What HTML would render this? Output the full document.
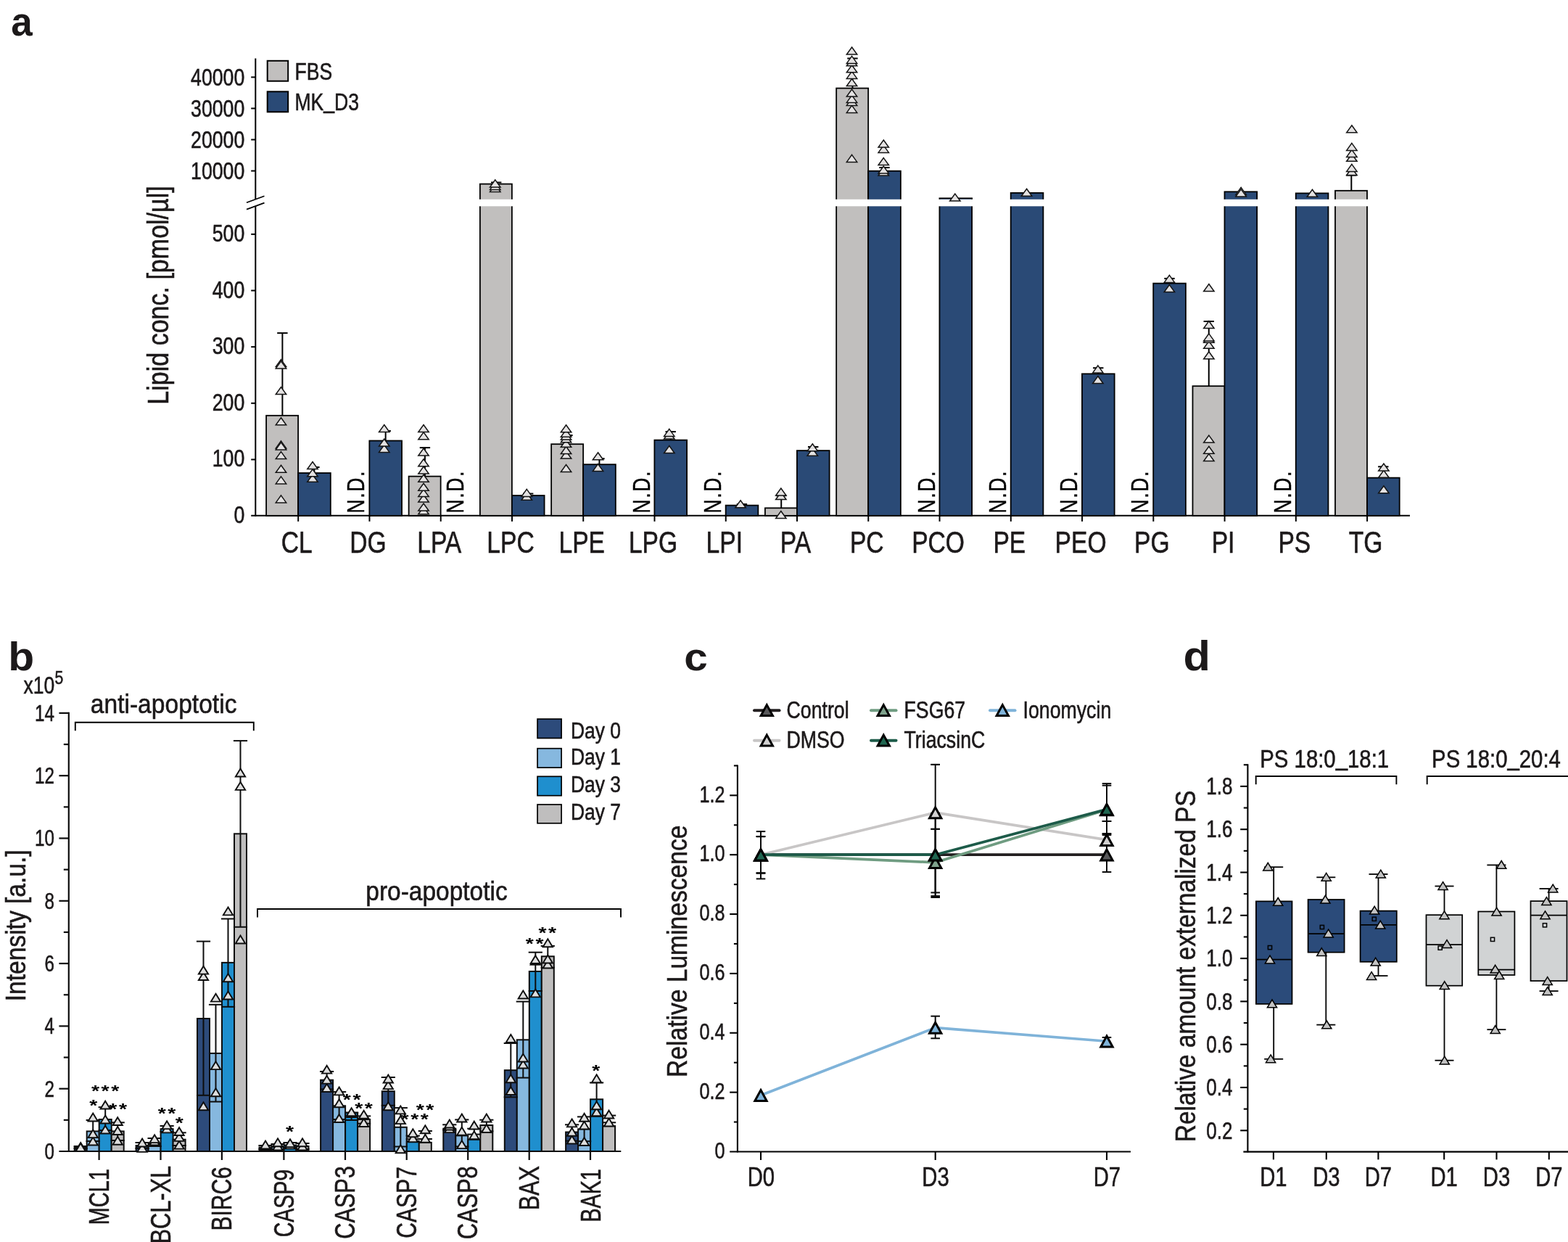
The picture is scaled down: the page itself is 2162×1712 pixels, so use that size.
<!DOCTYPE html>
<html lang="en"><head><meta charset="utf-8"><title>Figure</title>
<style>
html,body{margin:0;padding:0;background:#fff;}
body{width:2162px;height:1712px;overflow:hidden;}
svg{display:block;font-family:'Liberation Sans', sans-serif;}
</style></head><body>
<svg width="2162" height="1712" viewBox="0 0 2162 1712">
<rect width="2162" height="1712" fill="#fff"/>
<text transform="translate(15.31 48.55) scale(0.9592229394240318 1)" font-size="55.27" text-anchor="start" fill="#1c191a" font-weight="bold">a</text>
<line x1="352.3" y1="80.5" x2="352.3" y2="274.5" stroke="#000" stroke-width="2" stroke-linecap="butt"/>
<line x1="352.3" y1="284" x2="352.3" y2="711.7" stroke="#000" stroke-width="2" stroke-linecap="butt"/>
<line x1="346.2" y1="710.8" x2="1944" y2="710.8" stroke="#000" stroke-width="2" stroke-linecap="butt"/>
<line x1="340" y1="279.3" x2="364.5" y2="270.3" stroke="#000" stroke-width="1.7" stroke-linecap="butt"/>
<line x1="340" y1="288.6" x2="364.5" y2="279.6" stroke="#000" stroke-width="1.7" stroke-linecap="butt"/>
<text transform="translate(337.3 721.1) scale(0.8 1)" font-size="33.4" text-anchor="end" fill="#1c191a" stroke="#1c191a" stroke-width="0.6">0</text>
<line x1="346.2" y1="633.45" x2="352.3" y2="633.45" stroke="#000" stroke-width="2" stroke-linecap="butt"/>
<text transform="translate(337.3 643.45) scale(0.8 1)" font-size="33.4" text-anchor="end" fill="#1c191a" stroke="#1c191a" stroke-width="0.6">100</text>
<line x1="346.2" y1="555.8" x2="352.3" y2="555.8" stroke="#000" stroke-width="2" stroke-linecap="butt"/>
<text transform="translate(337.3 565.8) scale(0.8 1)" font-size="33.4" text-anchor="end" fill="#1c191a" stroke="#1c191a" stroke-width="0.6">200</text>
<line x1="346.2" y1="478.15" x2="352.3" y2="478.15" stroke="#000" stroke-width="2" stroke-linecap="butt"/>
<text transform="translate(337.3 488.15) scale(0.8 1)" font-size="33.4" text-anchor="end" fill="#1c191a" stroke="#1c191a" stroke-width="0.6">300</text>
<line x1="346.2" y1="400.5" x2="352.3" y2="400.5" stroke="#000" stroke-width="2" stroke-linecap="butt"/>
<text transform="translate(337.3 410.5) scale(0.8 1)" font-size="33.4" text-anchor="end" fill="#1c191a" stroke="#1c191a" stroke-width="0.6">400</text>
<line x1="346.2" y1="322.85" x2="352.3" y2="322.85" stroke="#000" stroke-width="2" stroke-linecap="butt"/>
<text transform="translate(337.3 332.85) scale(0.8 1)" font-size="33.4" text-anchor="end" fill="#1c191a" stroke="#1c191a" stroke-width="0.6">500</text>
<line x1="346.2" y1="235.55" x2="352.3" y2="235.55" stroke="#000" stroke-width="2" stroke-linecap="butt"/>
<text transform="translate(337.3 246.75) scale(0.8 1)" font-size="33.4" text-anchor="end" fill="#1c191a" stroke="#1c191a" stroke-width="0.6">10000</text>
<line x1="346.2" y1="192.5" x2="352.3" y2="192.5" stroke="#000" stroke-width="2" stroke-linecap="butt"/>
<text transform="translate(337.3 203.7) scale(0.8 1)" font-size="33.4" text-anchor="end" fill="#1c191a" stroke="#1c191a" stroke-width="0.6">20000</text>
<line x1="346.2" y1="149.45" x2="352.3" y2="149.45" stroke="#000" stroke-width="2" stroke-linecap="butt"/>
<text transform="translate(337.3 160.65) scale(0.8 1)" font-size="33.4" text-anchor="end" fill="#1c191a" stroke="#1c191a" stroke-width="0.6">30000</text>
<line x1="346.2" y1="106.4" x2="352.3" y2="106.4" stroke="#000" stroke-width="2" stroke-linecap="butt"/>
<text transform="translate(337.3 117.6) scale(0.8 1)" font-size="33.4" text-anchor="end" fill="#1c191a" stroke="#1c191a" stroke-width="0.6">40000</text>
<text transform="translate(232 407) rotate(-90) scale(0.855 1)" font-size="39.8" text-anchor="middle" fill="#1c191a" stroke="#1c191a" stroke-width="0.6">Lipid conc. [pmol/µl]</text>
<rect x="368.7" y="83.8" width="28.5" height="27.95" fill="#c1bfbe" stroke="#000" stroke-width="2"/>
<rect x="368.7" y="126.3" width="28.5" height="28" fill="#2a4a76" stroke="#000" stroke-width="2"/>
<text transform="translate(406.5 109.5) scale(0.805 1)" font-size="33" text-anchor="start" fill="#1c191a" stroke="#1c191a" stroke-width="0.6">FBS</text>
<text transform="translate(406.5 151.7) scale(0.805 1)" font-size="33" text-anchor="start" fill="#1c191a" stroke="#1c191a" stroke-width="0.6">MK<tspan dy="-2.97">_</tspan><tspan dy="2.97">D3</tspan></text>
<line x1="411.2" y1="710.8" x2="411.2" y2="718.8" stroke="#000" stroke-width="2" stroke-linecap="butt"/>
<text transform="translate(409.2 761.5) scale(0.8 1)" font-size="42" text-anchor="middle" fill="#1c191a" stroke="#1c191a" stroke-width="0.6">CL</text>
<line x1="509.46" y1="710.8" x2="509.46" y2="718.8" stroke="#000" stroke-width="2" stroke-linecap="butt"/>
<text transform="translate(507.46 761.5) scale(0.8 1)" font-size="42" text-anchor="middle" fill="#1c191a" stroke="#1c191a" stroke-width="0.6">DG</text>
<line x1="607.72" y1="710.8" x2="607.72" y2="718.8" stroke="#000" stroke-width="2" stroke-linecap="butt"/>
<text transform="translate(605.72 761.5) scale(0.8 1)" font-size="42" text-anchor="middle" fill="#1c191a" stroke="#1c191a" stroke-width="0.6">LPA</text>
<line x1="705.98" y1="710.8" x2="705.98" y2="718.8" stroke="#000" stroke-width="2" stroke-linecap="butt"/>
<text transform="translate(703.98 761.5) scale(0.8 1)" font-size="42" text-anchor="middle" fill="#1c191a" stroke="#1c191a" stroke-width="0.6">LPC</text>
<line x1="804.24" y1="710.8" x2="804.24" y2="718.8" stroke="#000" stroke-width="2" stroke-linecap="butt"/>
<text transform="translate(802.24 761.5) scale(0.8 1)" font-size="42" text-anchor="middle" fill="#1c191a" stroke="#1c191a" stroke-width="0.6">LPE</text>
<line x1="902.5" y1="710.8" x2="902.5" y2="718.8" stroke="#000" stroke-width="2" stroke-linecap="butt"/>
<text transform="translate(900.5 761.5) scale(0.8 1)" font-size="42" text-anchor="middle" fill="#1c191a" stroke="#1c191a" stroke-width="0.6">LPG</text>
<line x1="1000.76" y1="710.8" x2="1000.76" y2="718.8" stroke="#000" stroke-width="2" stroke-linecap="butt"/>
<text transform="translate(998.76 761.5) scale(0.8 1)" font-size="42" text-anchor="middle" fill="#1c191a" stroke="#1c191a" stroke-width="0.6">LPI</text>
<line x1="1099.02" y1="710.8" x2="1099.02" y2="718.8" stroke="#000" stroke-width="2" stroke-linecap="butt"/>
<text transform="translate(1097.02 761.5) scale(0.8 1)" font-size="42" text-anchor="middle" fill="#1c191a" stroke="#1c191a" stroke-width="0.6">PA</text>
<line x1="1197.28" y1="710.8" x2="1197.28" y2="718.8" stroke="#000" stroke-width="2" stroke-linecap="butt"/>
<text transform="translate(1195.28 761.5) scale(0.8 1)" font-size="42" text-anchor="middle" fill="#1c191a" stroke="#1c191a" stroke-width="0.6">PC</text>
<line x1="1295.54" y1="710.8" x2="1295.54" y2="718.8" stroke="#000" stroke-width="2" stroke-linecap="butt"/>
<text transform="translate(1293.54 761.5) scale(0.8 1)" font-size="42" text-anchor="middle" fill="#1c191a" stroke="#1c191a" stroke-width="0.6">PCO</text>
<line x1="1393.8" y1="710.8" x2="1393.8" y2="718.8" stroke="#000" stroke-width="2" stroke-linecap="butt"/>
<text transform="translate(1391.8 761.5) scale(0.8 1)" font-size="42" text-anchor="middle" fill="#1c191a" stroke="#1c191a" stroke-width="0.6">PE</text>
<line x1="1492.06" y1="710.8" x2="1492.06" y2="718.8" stroke="#000" stroke-width="2" stroke-linecap="butt"/>
<text transform="translate(1490.06 761.5) scale(0.8 1)" font-size="42" text-anchor="middle" fill="#1c191a" stroke="#1c191a" stroke-width="0.6">PEO</text>
<line x1="1590.32" y1="710.8" x2="1590.32" y2="718.8" stroke="#000" stroke-width="2" stroke-linecap="butt"/>
<text transform="translate(1588.32 761.5) scale(0.8 1)" font-size="42" text-anchor="middle" fill="#1c191a" stroke="#1c191a" stroke-width="0.6">PG</text>
<line x1="1688.58" y1="710.8" x2="1688.58" y2="718.8" stroke="#000" stroke-width="2" stroke-linecap="butt"/>
<text transform="translate(1686.58 761.5) scale(0.8 1)" font-size="42" text-anchor="middle" fill="#1c191a" stroke="#1c191a" stroke-width="0.6">PI</text>
<line x1="1786.84" y1="710.8" x2="1786.84" y2="718.8" stroke="#000" stroke-width="2" stroke-linecap="butt"/>
<text transform="translate(1784.84 761.5) scale(0.8 1)" font-size="42" text-anchor="middle" fill="#1c191a" stroke="#1c191a" stroke-width="0.6">PS</text>
<line x1="1885.1" y1="710.8" x2="1885.1" y2="718.8" stroke="#000" stroke-width="2" stroke-linecap="butt"/>
<text transform="translate(1883.1 761.5) scale(0.8 1)" font-size="42" text-anchor="middle" fill="#1c191a" stroke="#1c191a" stroke-width="0.6">TG</text>
<rect x="367.1" y="572.8" width="44" height="138" fill="#c1bfbe" stroke="#000" stroke-width="1.8"/>
<rect x="411.1" y="652" width="44.7" height="58.8" fill="#2a4a76" stroke="#000" stroke-width="1.8"/>
<rect x="509.36" y="607.5" width="44.7" height="103.3" fill="#2a4a76" stroke="#000" stroke-width="1.8"/>
<rect x="563.62" y="656.6" width="44" height="54.2" fill="#c1bfbe" stroke="#000" stroke-width="1.8"/>
<rect x="661.88" y="253.6" width="44" height="457.2" fill="#c1bfbe" stroke="#000" stroke-width="1.8"/>
<rect x="659.88" y="274.8" width="48" height="9.5" fill="#fff"/>
<rect x="705.88" y="683" width="44.7" height="27.8" fill="#2a4a76" stroke="#000" stroke-width="1.8"/>
<rect x="760.14" y="612.2" width="44" height="98.6" fill="#c1bfbe" stroke="#000" stroke-width="1.8"/>
<rect x="804.14" y="640.2" width="44.7" height="70.6" fill="#2a4a76" stroke="#000" stroke-width="1.8"/>
<rect x="902.4" y="606.6" width="44.7" height="104.2" fill="#2a4a76" stroke="#000" stroke-width="1.8"/>
<rect x="1000.66" y="696.6" width="44.7" height="14.2" fill="#2a4a76" stroke="#000" stroke-width="1.8"/>
<rect x="1054.92" y="700.3" width="44" height="10.5" fill="#c1bfbe" stroke="#000" stroke-width="1.8"/>
<rect x="1098.92" y="621.1" width="44.7" height="89.7" fill="#2a4a76" stroke="#000" stroke-width="1.8"/>
<rect x="1153.18" y="121.6" width="44" height="589.2" fill="#c1bfbe" stroke="#000" stroke-width="1.8"/>
<rect x="1151.18" y="274.8" width="48" height="9.5" fill="#fff"/>
<rect x="1197.18" y="235.7" width="44.7" height="475.1" fill="#2a4a76" stroke="#000" stroke-width="1.8"/>
<rect x="1195.18" y="274.8" width="48.7" height="9.5" fill="#fff"/>
<rect x="1295.44" y="273.3" width="44.7" height="437.5" fill="#2a4a76" stroke="#000" stroke-width="1.8"/>
<rect x="1293.44" y="274.8" width="48.7" height="9.5" fill="#fff"/>
<rect x="1393.7" y="265.9" width="44.7" height="444.9" fill="#2a4a76" stroke="#000" stroke-width="1.8"/>
<rect x="1391.7" y="274.8" width="48.7" height="9.5" fill="#fff"/>
<rect x="1491.96" y="515.3" width="44.7" height="195.5" fill="#2a4a76" stroke="#000" stroke-width="1.8"/>
<rect x="1590.22" y="390.6" width="44.7" height="320.2" fill="#2a4a76" stroke="#000" stroke-width="1.8"/>
<rect x="1644.48" y="532.2" width="44" height="178.6" fill="#c1bfbe" stroke="#000" stroke-width="1.8"/>
<rect x="1688.48" y="264.3" width="44.7" height="446.5" fill="#2a4a76" stroke="#000" stroke-width="1.8"/>
<rect x="1686.48" y="274.8" width="48.7" height="9.5" fill="#fff"/>
<rect x="1786.74" y="266.4" width="44.7" height="444.4" fill="#2a4a76" stroke="#000" stroke-width="1.8"/>
<rect x="1784.74" y="274.8" width="48.7" height="9.5" fill="#fff"/>
<rect x="1841" y="262.8" width="44" height="448" fill="#c1bfbe" stroke="#000" stroke-width="1.8"/>
<rect x="1839" y="274.8" width="48" height="9.5" fill="#fff"/>
<rect x="1885" y="658.6" width="44.7" height="52.2" fill="#2a4a76" stroke="#000" stroke-width="1.8"/>
<line x1="389.4" y1="459.1" x2="389.4" y2="572.8" stroke="#000" stroke-width="2" stroke-linecap="butt"/>
<line x1="382.2" y1="459.1" x2="396.6" y2="459.1" stroke="#000" stroke-width="2" stroke-linecap="butt"/>
<path d="M387.5 495.6L394.7 505.6H380.3Z" fill="#e4e2e2" stroke="#141414" stroke-width="1.5" stroke-linejoin="miter"/>
<path d="M387.5 497.9L394.7 507.9H380.3Z" fill="#e4e2e2" stroke="#141414" stroke-width="1.5" stroke-linejoin="miter"/>
<path d="M387.5 533.6L394.7 543.6H380.3Z" fill="#e4e2e2" stroke="#141414" stroke-width="1.5" stroke-linejoin="miter"/>
<path d="M387.5 575.7L394.7 585.7H380.3Z" fill="#e4e2e2" stroke="#141414" stroke-width="1.5" stroke-linejoin="miter"/>
<path d="M387.5 607.9L394.7 617.9H380.3Z" fill="#e4e2e2" stroke="#141414" stroke-width="1.5" stroke-linejoin="miter"/>
<path d="M387.5 609.9L394.7 619.9H380.3Z" fill="#e4e2e2" stroke="#141414" stroke-width="1.5" stroke-linejoin="miter"/>
<path d="M387.5 622.6L394.7 632.6H380.3Z" fill="#e4e2e2" stroke="#141414" stroke-width="1.5" stroke-linejoin="miter"/>
<path d="M387.5 641.2L394.7 651.2H380.3Z" fill="#e4e2e2" stroke="#141414" stroke-width="1.5" stroke-linejoin="miter"/>
<path d="M387.5 656.9L394.7 666.9H380.3Z" fill="#e4e2e2" stroke="#141414" stroke-width="1.5" stroke-linejoin="miter"/>
<path d="M387.5 682.9L394.7 692.9H380.3Z" fill="#e4e2e2" stroke="#141414" stroke-width="1.5" stroke-linejoin="miter"/>
<line x1="433.4" y1="644" x2="433.4" y2="652" stroke="#000" stroke-width="2" stroke-linecap="butt"/>
<line x1="426.2" y1="644" x2="440.6" y2="644" stroke="#000" stroke-width="2" stroke-linecap="butt"/>
<path d="M431 654.2L438.2 664.2H423.8Z" fill="#e4e2e2" stroke="#141414" stroke-width="1.5" stroke-linejoin="miter"/>
<path d="M431 646.7L438.2 656.7H423.8Z" fill="#e4e2e2" stroke="#141414" stroke-width="1.5" stroke-linejoin="miter"/>
<path d="M431 636.5L438.2 646.5H423.8Z" fill="#e4e2e2" stroke="#141414" stroke-width="1.5" stroke-linejoin="miter"/>
<line x1="531.66" y1="594" x2="531.66" y2="607.5" stroke="#000" stroke-width="2" stroke-linecap="butt"/>
<line x1="524.46" y1="594" x2="538.86" y2="594" stroke="#000" stroke-width="2" stroke-linecap="butt"/>
<path d="M529.76 613.4L536.96 623.4H522.56Z" fill="#e4e2e2" stroke="#141414" stroke-width="1.5" stroke-linejoin="miter"/>
<path d="M529.76 605L536.96 615H522.56Z" fill="#e4e2e2" stroke="#141414" stroke-width="1.5" stroke-linejoin="miter"/>
<path d="M529.76 585.5L536.96 595.5H522.56Z" fill="#e4e2e2" stroke="#141414" stroke-width="1.5" stroke-linejoin="miter"/>
<line x1="585.92" y1="617.1" x2="585.92" y2="656.6" stroke="#000" stroke-width="2" stroke-linecap="butt"/>
<line x1="578.72" y1="617.1" x2="593.12" y2="617.1" stroke="#000" stroke-width="2" stroke-linecap="butt"/>
<path d="M584.02 698.7L591.22 708.7H576.82Z" fill="#e4e2e2" stroke="#141414" stroke-width="1.5" stroke-linejoin="miter"/>
<path d="M584.02 694L591.22 704H576.82Z" fill="#e4e2e2" stroke="#141414" stroke-width="1.5" stroke-linejoin="miter"/>
<path d="M584.02 682L591.22 692H576.82Z" fill="#e4e2e2" stroke="#141414" stroke-width="1.5" stroke-linejoin="miter"/>
<path d="M584.02 674.6L591.22 684.6H576.82Z" fill="#e4e2e2" stroke="#141414" stroke-width="1.5" stroke-linejoin="miter"/>
<path d="M584.02 666.2L591.22 676.2H576.82Z" fill="#e4e2e2" stroke="#141414" stroke-width="1.5" stroke-linejoin="miter"/>
<path d="M584.02 654.2L591.22 664.2H576.82Z" fill="#e4e2e2" stroke="#141414" stroke-width="1.5" stroke-linejoin="miter"/>
<path d="M584.02 643L591.22 653H576.82Z" fill="#e4e2e2" stroke="#141414" stroke-width="1.5" stroke-linejoin="miter"/>
<path d="M584.02 632.8L591.22 642.8H576.82Z" fill="#e4e2e2" stroke="#141414" stroke-width="1.5" stroke-linejoin="miter"/>
<path d="M584.02 618L591.22 628H576.82Z" fill="#e4e2e2" stroke="#141414" stroke-width="1.5" stroke-linejoin="miter"/>
<path d="M584.02 595.7L591.22 605.7H576.82Z" fill="#e4e2e2" stroke="#141414" stroke-width="1.5" stroke-linejoin="miter"/>
<path d="M584.02 585.5L591.22 595.5H576.82Z" fill="#e4e2e2" stroke="#141414" stroke-width="1.5" stroke-linejoin="miter"/>
<line x1="684.18" y1="251.5" x2="684.18" y2="253.6" stroke="#000" stroke-width="2" stroke-linecap="butt"/>
<line x1="676.98" y1="251.5" x2="691.38" y2="251.5" stroke="#000" stroke-width="2" stroke-linecap="butt"/>
<path d="M682.78 254.4L689.98 264.4H675.58Z" fill="#e4e2e2" stroke="#141414" stroke-width="1.5" stroke-linejoin="miter"/>
<path d="M682.78 251.4L689.98 261.4H675.58Z" fill="#e4e2e2" stroke="#141414" stroke-width="1.5" stroke-linejoin="miter"/>
<path d="M682.78 247.9L689.98 257.9H675.58Z" fill="#e4e2e2" stroke="#141414" stroke-width="1.5" stroke-linejoin="miter"/>
<line x1="728.18" y1="680.5" x2="728.18" y2="683" stroke="#000" stroke-width="2" stroke-linecap="butt"/>
<line x1="720.98" y1="680.5" x2="735.38" y2="680.5" stroke="#000" stroke-width="2" stroke-linecap="butt"/>
<path d="M726.28 679.2L733.48 689.2H719.08Z" fill="#e4e2e2" stroke="#141414" stroke-width="1.5" stroke-linejoin="miter"/>
<path d="M726.28 674.4L733.48 684.4H719.08Z" fill="#e4e2e2" stroke="#141414" stroke-width="1.5" stroke-linejoin="miter"/>
<line x1="782.44" y1="600" x2="782.44" y2="612.2" stroke="#000" stroke-width="2" stroke-linecap="butt"/>
<line x1="775.24" y1="600" x2="789.64" y2="600" stroke="#000" stroke-width="2" stroke-linecap="butt"/>
<path d="M780.54 640.5L787.74 650.5H773.34Z" fill="#e4e2e2" stroke="#141414" stroke-width="1.5" stroke-linejoin="miter"/>
<path d="M780.54 622L787.74 632H773.34Z" fill="#e4e2e2" stroke="#141414" stroke-width="1.5" stroke-linejoin="miter"/>
<path d="M780.54 615.5L787.74 625.5H773.34Z" fill="#e4e2e2" stroke="#141414" stroke-width="1.5" stroke-linejoin="miter"/>
<path d="M780.54 606.2L787.74 616.2H773.34Z" fill="#e4e2e2" stroke="#141414" stroke-width="1.5" stroke-linejoin="miter"/>
<path d="M780.54 599.7L787.74 609.7H773.34Z" fill="#e4e2e2" stroke="#141414" stroke-width="1.5" stroke-linejoin="miter"/>
<path d="M780.54 596L787.74 606H773.34Z" fill="#e4e2e2" stroke="#141414" stroke-width="1.5" stroke-linejoin="miter"/>
<path d="M780.54 592.3L787.74 602.3H773.34Z" fill="#e4e2e2" stroke="#141414" stroke-width="1.5" stroke-linejoin="miter"/>
<path d="M780.54 585.8L787.74 595.8H773.34Z" fill="#e4e2e2" stroke="#141414" stroke-width="1.5" stroke-linejoin="miter"/>
<line x1="826.44" y1="632.2" x2="826.44" y2="640.2" stroke="#000" stroke-width="2" stroke-linecap="butt"/>
<line x1="819.24" y1="632.2" x2="833.64" y2="632.2" stroke="#000" stroke-width="2" stroke-linecap="butt"/>
<path d="M824.54 639.6L831.74 649.6H817.34Z" fill="#e4e2e2" stroke="#141414" stroke-width="1.5" stroke-linejoin="miter"/>
<path d="M824.54 623.8L831.74 633.8H817.34Z" fill="#e4e2e2" stroke="#141414" stroke-width="1.5" stroke-linejoin="miter"/>
<line x1="924.7" y1="595.1" x2="924.7" y2="606.6" stroke="#000" stroke-width="2" stroke-linecap="butt"/>
<line x1="917.5" y1="595.1" x2="931.9" y2="595.1" stroke="#000" stroke-width="2" stroke-linecap="butt"/>
<path d="M922.8 614.5L930 624.5H915.6Z" fill="#e4e2e2" stroke="#141414" stroke-width="1.5" stroke-linejoin="miter"/>
<path d="M922.8 595.1L930 605.1H915.6Z" fill="#e4e2e2" stroke="#141414" stroke-width="1.5" stroke-linejoin="miter"/>
<path d="M922.8 591.4L930 601.4H915.6Z" fill="#e4e2e2" stroke="#141414" stroke-width="1.5" stroke-linejoin="miter"/>
<line x1="1022.96" y1="695" x2="1022.96" y2="696.6" stroke="#000" stroke-width="2" stroke-linecap="butt"/>
<line x1="1015.76" y1="695" x2="1030.16" y2="695" stroke="#000" stroke-width="2" stroke-linecap="butt"/>
<path d="M1021.06 689.7L1028.26 699.7H1013.86Z" fill="#e4e2e2" stroke="#141414" stroke-width="1.5" stroke-linejoin="miter"/>
<line x1="1077.22" y1="683.2" x2="1077.22" y2="700.3" stroke="#000" stroke-width="2" stroke-linecap="butt"/>
<line x1="1070.02" y1="683.2" x2="1084.42" y2="683.2" stroke="#000" stroke-width="2" stroke-linecap="butt"/>
<path d="M1076.82 704.5L1084.02 714.5H1069.62Z" fill="#e4e2e2" stroke="#141414" stroke-width="1.5" stroke-linejoin="miter"/>
<path d="M1076.82 678.5L1084.02 688.5H1069.62Z" fill="#e4e2e2" stroke="#141414" stroke-width="1.5" stroke-linejoin="miter"/>
<path d="M1076.82 673L1084.02 683H1069.62Z" fill="#e4e2e2" stroke="#141414" stroke-width="1.5" stroke-linejoin="miter"/>
<line x1="1121.22" y1="616" x2="1121.22" y2="621.1" stroke="#000" stroke-width="2" stroke-linecap="butt"/>
<line x1="1114.02" y1="616" x2="1128.42" y2="616" stroke="#000" stroke-width="2" stroke-linecap="butt"/>
<path d="M1120.32 618.3L1127.52 628.3H1113.12Z" fill="#e4e2e2" stroke="#141414" stroke-width="1.5" stroke-linejoin="miter"/>
<path d="M1120.32 611.8L1127.52 621.8H1113.12Z" fill="#e4e2e2" stroke="#141414" stroke-width="1.5" stroke-linejoin="miter"/>
<line x1="1175.48" y1="80.5" x2="1175.48" y2="121.6" stroke="#000" stroke-width="2" stroke-linecap="butt"/>
<line x1="1168.28" y1="80.5" x2="1182.68" y2="80.5" stroke="#000" stroke-width="2" stroke-linecap="butt"/>
<path d="M1174.58 213.4L1181.78 223.4H1167.38Z" fill="#e4e2e2" stroke="#141414" stroke-width="1.5" stroke-linejoin="miter"/>
<path d="M1174.58 145.4L1181.78 155.4H1167.38Z" fill="#e4e2e2" stroke="#141414" stroke-width="1.5" stroke-linejoin="miter"/>
<path d="M1174.58 135.4L1181.78 145.4H1167.38Z" fill="#e4e2e2" stroke="#141414" stroke-width="1.5" stroke-linejoin="miter"/>
<path d="M1174.58 131.4L1181.78 141.4H1167.38Z" fill="#e4e2e2" stroke="#141414" stroke-width="1.5" stroke-linejoin="miter"/>
<path d="M1174.58 123.1L1181.78 133.1H1167.38Z" fill="#e4e2e2" stroke="#141414" stroke-width="1.5" stroke-linejoin="miter"/>
<path d="M1174.58 108.6L1181.78 118.6H1167.38Z" fill="#e4e2e2" stroke="#141414" stroke-width="1.5" stroke-linejoin="miter"/>
<path d="M1174.58 98.4L1181.78 108.4H1167.38Z" fill="#e4e2e2" stroke="#141414" stroke-width="1.5" stroke-linejoin="miter"/>
<path d="M1174.58 89.7L1181.78 99.7H1167.38Z" fill="#e4e2e2" stroke="#141414" stroke-width="1.5" stroke-linejoin="miter"/>
<path d="M1174.58 80.8L1181.78 90.8H1167.38Z" fill="#e4e2e2" stroke="#141414" stroke-width="1.5" stroke-linejoin="miter"/>
<path d="M1174.58 77.4L1181.78 87.4H1167.38Z" fill="#e4e2e2" stroke="#141414" stroke-width="1.5" stroke-linejoin="miter"/>
<path d="M1174.58 65L1181.78 75H1167.38Z" fill="#e4e2e2" stroke="#141414" stroke-width="1.5" stroke-linejoin="miter"/>
<line x1="1219.48" y1="231" x2="1219.48" y2="235.7" stroke="#000" stroke-width="2" stroke-linecap="butt"/>
<line x1="1212.28" y1="231" x2="1226.68" y2="231" stroke="#000" stroke-width="2" stroke-linecap="butt"/>
<path d="M1218.28 232L1225.48 242H1211.08Z" fill="#e4e2e2" stroke="#141414" stroke-width="1.5" stroke-linejoin="miter"/>
<path d="M1218.28 229.1L1225.48 239.1H1211.08Z" fill="#e4e2e2" stroke="#141414" stroke-width="1.5" stroke-linejoin="miter"/>
<path d="M1218.28 217.6L1225.48 227.6H1211.08Z" fill="#e4e2e2" stroke="#141414" stroke-width="1.5" stroke-linejoin="miter"/>
<path d="M1218.28 200.4L1225.48 210.4H1211.08Z" fill="#e4e2e2" stroke="#141414" stroke-width="1.5" stroke-linejoin="miter"/>
<path d="M1218.28 193L1225.48 203H1211.08Z" fill="#e4e2e2" stroke="#141414" stroke-width="1.5" stroke-linejoin="miter"/>
<path d="M1316.84 267.1L1324.04 277.1H1309.64Z" fill="#e4e2e2" stroke="#141414" stroke-width="1.5" stroke-linejoin="miter"/>
<path d="M1415.6 260.3L1422.8 270.3H1408.4Z" fill="#e4e2e2" stroke="#141414" stroke-width="1.5" stroke-linejoin="miter"/>
<line x1="1514.26" y1="507.2" x2="1514.26" y2="515.3" stroke="#000" stroke-width="2" stroke-linecap="butt"/>
<line x1="1507.06" y1="507.2" x2="1521.46" y2="507.2" stroke="#000" stroke-width="2" stroke-linecap="butt"/>
<path d="M1513.86 518.5L1521.06 528.5H1506.66Z" fill="#e4e2e2" stroke="#141414" stroke-width="1.5" stroke-linejoin="miter"/>
<path d="M1513.86 503.9L1521.06 513.9H1506.66Z" fill="#e4e2e2" stroke="#141414" stroke-width="1.5" stroke-linejoin="miter"/>
<line x1="1612.52" y1="383.9" x2="1612.52" y2="390.6" stroke="#000" stroke-width="2" stroke-linecap="butt"/>
<line x1="1605.32" y1="383.9" x2="1619.72" y2="383.9" stroke="#000" stroke-width="2" stroke-linecap="butt"/>
<path d="M1612.42 392.6L1619.62 402.6H1605.22Z" fill="#e4e2e2" stroke="#141414" stroke-width="1.5" stroke-linejoin="miter"/>
<path d="M1612.42 379.4L1619.62 389.4H1605.22Z" fill="#e4e2e2" stroke="#141414" stroke-width="1.5" stroke-linejoin="miter"/>
<line x1="1666.78" y1="443" x2="1666.78" y2="532.2" stroke="#000" stroke-width="2" stroke-linecap="butt"/>
<line x1="1659.58" y1="443" x2="1673.98" y2="443" stroke="#000" stroke-width="2" stroke-linecap="butt"/>
<path d="M1666.88 625.6L1674.08 635.6H1659.68Z" fill="#e4e2e2" stroke="#141414" stroke-width="1.5" stroke-linejoin="miter"/>
<path d="M1666.88 615.2L1674.08 625.2H1659.68Z" fill="#e4e2e2" stroke="#141414" stroke-width="1.5" stroke-linejoin="miter"/>
<path d="M1666.88 600.1L1674.08 610.1H1659.68Z" fill="#e4e2e2" stroke="#141414" stroke-width="1.5" stroke-linejoin="miter"/>
<path d="M1666.88 484.7L1674.08 494.7H1659.68Z" fill="#e4e2e2" stroke="#141414" stroke-width="1.5" stroke-linejoin="miter"/>
<path d="M1666.88 470.3L1674.08 480.3H1659.68Z" fill="#e4e2e2" stroke="#141414" stroke-width="1.5" stroke-linejoin="miter"/>
<path d="M1666.88 462.2L1674.08 472.2H1659.68Z" fill="#e4e2e2" stroke="#141414" stroke-width="1.5" stroke-linejoin="miter"/>
<path d="M1666.88 459.9L1674.08 469.9H1659.68Z" fill="#e4e2e2" stroke="#141414" stroke-width="1.5" stroke-linejoin="miter"/>
<path d="M1666.88 442.5L1674.08 452.5H1659.68Z" fill="#e4e2e2" stroke="#141414" stroke-width="1.5" stroke-linejoin="miter"/>
<path d="M1666.88 391.5L1674.08 401.5H1659.68Z" fill="#e4e2e2" stroke="#141414" stroke-width="1.5" stroke-linejoin="miter"/>
<path d="M1711.18 258.4L1718.38 268.4H1703.98Z" fill="#e4e2e2" stroke="#141414" stroke-width="1.5" stroke-linejoin="miter"/>
<path d="M1711.18 260.9L1718.38 270.9H1703.98Z" fill="#e4e2e2" stroke="#141414" stroke-width="1.5" stroke-linejoin="miter"/>
<path d="M1809.44 261.3L1816.64 271.3H1802.24Z" fill="#e4e2e2" stroke="#141414" stroke-width="1.5" stroke-linejoin="miter"/>
<line x1="1863.3" y1="241.6" x2="1863.3" y2="262.8" stroke="#000" stroke-width="2" stroke-linecap="butt"/>
<line x1="1856.1" y1="241.6" x2="1870.5" y2="241.6" stroke="#000" stroke-width="2" stroke-linecap="butt"/>
<path d="M1863.9 231.6L1871.1 241.6H1856.7Z" fill="#e4e2e2" stroke="#141414" stroke-width="1.5" stroke-linejoin="miter"/>
<path d="M1863.9 226.4L1871.1 236.4H1856.7Z" fill="#e4e2e2" stroke="#141414" stroke-width="1.5" stroke-linejoin="miter"/>
<path d="M1863.9 212.3L1871.1 222.3H1856.7Z" fill="#e4e2e2" stroke="#141414" stroke-width="1.5" stroke-linejoin="miter"/>
<path d="M1863.9 206.4L1871.1 216.4H1856.7Z" fill="#e4e2e2" stroke="#141414" stroke-width="1.5" stroke-linejoin="miter"/>
<path d="M1863.9 197.4L1871.1 207.4H1856.7Z" fill="#e4e2e2" stroke="#141414" stroke-width="1.5" stroke-linejoin="miter"/>
<path d="M1863.9 172.7L1871.1 182.7H1856.7Z" fill="#e4e2e2" stroke="#141414" stroke-width="1.5" stroke-linejoin="miter"/>
<line x1="1907.3" y1="643.3" x2="1907.3" y2="658.6" stroke="#000" stroke-width="2" stroke-linecap="butt"/>
<line x1="1900.1" y1="643.3" x2="1914.5" y2="643.3" stroke="#000" stroke-width="2" stroke-linecap="butt"/>
<path d="M1907.9 669.7L1915.1 679.7H1900.7Z" fill="#e4e2e2" stroke="#141414" stroke-width="1.5" stroke-linejoin="miter"/>
<path d="M1907.9 648.3L1915.1 658.3H1900.7Z" fill="#e4e2e2" stroke="#141414" stroke-width="1.5" stroke-linejoin="miter"/>
<path d="M1907.9 639L1915.1 649H1900.7Z" fill="#e4e2e2" stroke="#141414" stroke-width="1.5" stroke-linejoin="miter"/>
<text transform="translate(502.46 707.5) rotate(-90) scale(0.8 1)" font-size="33" text-anchor="start" fill="#000" stroke="#000" stroke-width="0.5" letter-spacing="2.1">N.D.</text>
<text transform="translate(895.5 707.5) rotate(-90) scale(0.8 1)" font-size="33" text-anchor="start" fill="#000" stroke="#000" stroke-width="0.5" letter-spacing="2.1">N.D.</text>
<text transform="translate(993.76 707.5) rotate(-90) scale(0.8 1)" font-size="33" text-anchor="start" fill="#000" stroke="#000" stroke-width="0.5" letter-spacing="2.1">N.D.</text>
<text transform="translate(1288.54 707.5) rotate(-90) scale(0.8 1)" font-size="33" text-anchor="start" fill="#000" stroke="#000" stroke-width="0.5" letter-spacing="2.1">N.D.</text>
<text transform="translate(1386.8 707.5) rotate(-90) scale(0.8 1)" font-size="33" text-anchor="start" fill="#000" stroke="#000" stroke-width="0.5" letter-spacing="2.1">N.D.</text>
<text transform="translate(1485.06 707.5) rotate(-90) scale(0.8 1)" font-size="33" text-anchor="start" fill="#000" stroke="#000" stroke-width="0.5" letter-spacing="2.1">N.D.</text>
<text transform="translate(1583.32 707.5) rotate(-90) scale(0.8 1)" font-size="33" text-anchor="start" fill="#000" stroke="#000" stroke-width="0.5" letter-spacing="2.1">N.D.</text>
<text transform="translate(1779.84 707.5) rotate(-90) scale(0.8 1)" font-size="33" text-anchor="start" fill="#000" stroke="#000" stroke-width="0.5" letter-spacing="2.1">N.D.</text>
<text transform="translate(638.72 707.5) rotate(-90) scale(0.8 1)" font-size="33" text-anchor="start" fill="#000" stroke="#000" stroke-width="0.5" letter-spacing="2.1">N.D.</text>
<text transform="translate(11.18 923.85) scale(1.0752918575439656 1)" font-size="54.69" text-anchor="start" fill="#1c191a" font-weight="bold">b</text>
<text transform="translate(32.5 955.9) scale(0.78 1)" font-size="34" text-anchor="start" fill="#1c191a" stroke="#1c191a" stroke-width="0.6">x10</text>
<text transform="translate(75.5 942.6) scale(0.8 1)" font-size="26.5" text-anchor="start" fill="#1c191a" stroke="#1c191a" stroke-width="0.6">5</text>
<line x1="94.8" y1="981.8" x2="94.8" y2="1588.1" stroke="#0d0d0d" stroke-width="2.2" stroke-linecap="butt"/>
<line x1="81.4" y1="1587" x2="856.3" y2="1587" stroke="#0d0d0d" stroke-width="2.2" stroke-linecap="butt"/>
<text transform="translate(75 1597.9) scale(0.78 1)" font-size="31" text-anchor="end" fill="#1c191a" stroke="#1c191a" stroke-width="0.6">0</text>
<line x1="87.8" y1="1543.85" x2="94.8" y2="1543.85" stroke="#0d0d0d" stroke-width="2.2" stroke-linecap="butt"/>
<line x1="81.4" y1="1500.7" x2="94.8" y2="1500.7" stroke="#0d0d0d" stroke-width="2.2" stroke-linecap="butt"/>
<text transform="translate(75 1511.6) scale(0.78 1)" font-size="31" text-anchor="end" fill="#1c191a" stroke="#1c191a" stroke-width="0.6">2</text>
<line x1="87.8" y1="1457.55" x2="94.8" y2="1457.55" stroke="#0d0d0d" stroke-width="2.2" stroke-linecap="butt"/>
<line x1="81.4" y1="1414.4" x2="94.8" y2="1414.4" stroke="#0d0d0d" stroke-width="2.2" stroke-linecap="butt"/>
<text transform="translate(75 1425.3) scale(0.78 1)" font-size="31" text-anchor="end" fill="#1c191a" stroke="#1c191a" stroke-width="0.6">4</text>
<line x1="87.8" y1="1371.25" x2="94.8" y2="1371.25" stroke="#0d0d0d" stroke-width="2.2" stroke-linecap="butt"/>
<line x1="81.4" y1="1328.1" x2="94.8" y2="1328.1" stroke="#0d0d0d" stroke-width="2.2" stroke-linecap="butt"/>
<text transform="translate(75 1339) scale(0.78 1)" font-size="31" text-anchor="end" fill="#1c191a" stroke="#1c191a" stroke-width="0.6">6</text>
<line x1="87.8" y1="1284.95" x2="94.8" y2="1284.95" stroke="#0d0d0d" stroke-width="2.2" stroke-linecap="butt"/>
<line x1="81.4" y1="1241.8" x2="94.8" y2="1241.8" stroke="#0d0d0d" stroke-width="2.2" stroke-linecap="butt"/>
<text transform="translate(75 1252.7) scale(0.78 1)" font-size="31" text-anchor="end" fill="#1c191a" stroke="#1c191a" stroke-width="0.6">8</text>
<line x1="87.8" y1="1198.65" x2="94.8" y2="1198.65" stroke="#0d0d0d" stroke-width="2.2" stroke-linecap="butt"/>
<line x1="81.4" y1="1155.5" x2="94.8" y2="1155.5" stroke="#0d0d0d" stroke-width="2.2" stroke-linecap="butt"/>
<text transform="translate(75 1166.4) scale(0.78 1)" font-size="31" text-anchor="end" fill="#1c191a" stroke="#1c191a" stroke-width="0.6">10</text>
<line x1="87.8" y1="1112.35" x2="94.8" y2="1112.35" stroke="#0d0d0d" stroke-width="2.2" stroke-linecap="butt"/>
<line x1="81.4" y1="1069.2" x2="94.8" y2="1069.2" stroke="#0d0d0d" stroke-width="2.2" stroke-linecap="butt"/>
<text transform="translate(75 1080.1) scale(0.78 1)" font-size="31" text-anchor="end" fill="#1c191a" stroke="#1c191a" stroke-width="0.6">12</text>
<line x1="87.8" y1="1026.05" x2="94.8" y2="1026.05" stroke="#0d0d0d" stroke-width="2.2" stroke-linecap="butt"/>
<line x1="81.4" y1="982.9" x2="94.8" y2="982.9" stroke="#0d0d0d" stroke-width="2.2" stroke-linecap="butt"/>
<text transform="translate(75 993.8) scale(0.78 1)" font-size="31" text-anchor="end" fill="#1c191a" stroke="#1c191a" stroke-width="0.6">14</text>
<text transform="translate(34.9 1275.8) rotate(-90) scale(0.85 1)" font-size="39.5" text-anchor="middle" fill="#1c191a" stroke="#1c191a" stroke-width="0.6">Intensity [a.u.]</text>
<path d="M103.8 1007.3V995.8H349.8V1007.3" fill="none" stroke="#000" stroke-width="1.9"/>
<path d="M355 1264.5V1253H856V1264.5" fill="none" stroke="#000" stroke-width="1.9"/>
<text transform="translate(225.6 983) scale(0.896 1)" font-size="37.5" text-anchor="middle" fill="#1c191a" stroke="#1c191a" stroke-width="0.6">anti-apoptotic</text>
<text transform="translate(602 1241.4) scale(0.893 1)" font-size="37.5" text-anchor="middle" fill="#1c191a" stroke="#1c191a" stroke-width="0.6">pro-apoptotic</text>
<rect x="741.05" y="991.1" width="33.05" height="26.4" fill="#2d4b7b" stroke="#000" stroke-width="1.7"/>
<text transform="translate(786.9 1018.3) scale(0.845 1)" font-size="31.3" text-anchor="start" fill="#1c191a" stroke="#1c191a" stroke-width="0.6">Day 0</text>
<rect x="741.05" y="1031.7" width="33.05" height="26.4" fill="#86b8df" stroke="#000" stroke-width="1.7"/>
<text transform="translate(786.9 1053.7) scale(0.845 1)" font-size="31.3" text-anchor="start" fill="#1c191a" stroke="#1c191a" stroke-width="0.6">Day 1</text>
<rect x="741.05" y="1070.3" width="33.05" height="26.4" fill="#1f8fce" stroke="#000" stroke-width="1.7"/>
<text transform="translate(786.9 1092.3) scale(0.845 1)" font-size="31.3" text-anchor="start" fill="#1c191a" stroke="#1c191a" stroke-width="0.6">Day 3</text>
<rect x="741.05" y="1109" width="33.05" height="25.8" fill="#bfbebe" stroke="#000" stroke-width="1.7"/>
<text transform="translate(786.9 1130.4) scale(0.845 1)" font-size="31.3" text-anchor="start" fill="#1c191a" stroke="#1c191a" stroke-width="0.6">Day 7</text>
<line x1="136.6" y1="1587" x2="136.6" y2="1599" stroke="#0d0d0d" stroke-width="2.2" stroke-linecap="butt"/>
<text transform="translate(149.82 1688.52) rotate(-90) scale(0.7658431636565882 1)" font-size="37.89" text-anchor="start" fill="#1c191a" stroke="#1c191a" stroke-width="0.6">MCL1</text>
<line x1="221.5" y1="1587" x2="221.5" y2="1599" stroke="#0d0d0d" stroke-width="2.2" stroke-linecap="butt"/>
<text transform="translate(234.72 1714.56) rotate(-90) scale(0.8112862014891803 1)" font-size="37.89" text-anchor="start" fill="#1c191a" stroke="#1c191a" stroke-width="0.6">BCL-XL</text>
<line x1="305.9" y1="1587" x2="305.9" y2="1599" stroke="#0d0d0d" stroke-width="2.2" stroke-linecap="butt"/>
<text transform="translate(319.12 1696.39) rotate(-90) scale(0.7890136834612024 1)" font-size="37.89" text-anchor="start" fill="#1c191a" stroke="#1c191a" stroke-width="0.6">BIRC6</text>
<line x1="391.4" y1="1587" x2="391.4" y2="1599" stroke="#0d0d0d" stroke-width="2.2" stroke-linecap="butt"/>
<text transform="translate(404.62 1705.22) rotate(-90) scale(0.7503214795071405 1)" font-size="37.89" text-anchor="start" fill="#1c191a" stroke="#1c191a" stroke-width="0.6">CASP9</text>
<line x1="476" y1="1587" x2="476" y2="1599" stroke="#0d0d0d" stroke-width="2.2" stroke-linecap="butt"/>
<text transform="translate(489.22 1707.73) rotate(-90) scale(0.8088098836903935 1)" font-size="37.89" text-anchor="start" fill="#1c191a" stroke="#1c191a" stroke-width="0.6">CASP3</text>
<line x1="560.7" y1="1587" x2="560.7" y2="1599" stroke="#0d0d0d" stroke-width="2.2" stroke-linecap="butt"/>
<text transform="translate(573.92 1706.8) rotate(-90) scale(0.7934815646115357 1)" font-size="37.89" text-anchor="start" fill="#1c191a" stroke="#1c191a" stroke-width="0.6">CASP7</text>
<line x1="645.2" y1="1587" x2="645.2" y2="1599" stroke="#0d0d0d" stroke-width="2.2" stroke-linecap="butt"/>
<text transform="translate(658.42 1708.14) rotate(-90) scale(0.8121246782956827 1)" font-size="37.89" text-anchor="start" fill="#1c191a" stroke="#1c191a" stroke-width="0.6">CASP8</text>
<line x1="729.7" y1="1587" x2="729.7" y2="1599" stroke="#0d0d0d" stroke-width="2.2" stroke-linecap="butt"/>
<text transform="translate(743.3 1668.24) rotate(-90) scale(0.7816669927607109 1)" font-size="38.99" text-anchor="start" fill="#1c191a" stroke="#1c191a" stroke-width="0.6">BAX</text>
<line x1="814" y1="1587" x2="814" y2="1599" stroke="#0d0d0d" stroke-width="2.2" stroke-linecap="butt"/>
<text transform="translate(827.6 1684.7) rotate(-90) scale(0.7378493735371074 1)" font-size="38.99" text-anchor="start" fill="#1c191a" stroke="#1c191a" stroke-width="0.6">BAK1</text>
<rect x="102.7" y="1581.5" width="17" height="5.5" fill="#2d4b7b" stroke="#0d0d0d" stroke-width="2"/>
<rect x="119.7" y="1559.4" width="17" height="27.6" fill="#86b8df" stroke="#0d0d0d" stroke-width="2"/>
<rect x="136.7" y="1543" width="17" height="44" fill="#1f8fce" stroke="#0d0d0d" stroke-width="2"/>
<rect x="153.7" y="1559.4" width="17" height="27.6" fill="#bfbebe" stroke="#0d0d0d" stroke-width="2"/>
<rect x="187.6" y="1579" width="17" height="8" fill="#2d4b7b" stroke="#0d0d0d" stroke-width="2"/>
<rect x="204.6" y="1577" width="17" height="10" fill="#86b8df" stroke="#0d0d0d" stroke-width="2"/>
<rect x="221.6" y="1556.2" width="17" height="30.8" fill="#1f8fce" stroke="#0d0d0d" stroke-width="2"/>
<rect x="238.6" y="1570.7" width="17" height="16.3" fill="#bfbebe" stroke="#0d0d0d" stroke-width="2"/>
<rect x="272" y="1404" width="17" height="183" fill="#2d4b7b" stroke="#0d0d0d" stroke-width="2"/>
<rect x="289" y="1451.9" width="17" height="135.1" fill="#86b8df" stroke="#0d0d0d" stroke-width="2"/>
<rect x="306" y="1326.9" width="17" height="260.1" fill="#1f8fce" stroke="#0d0d0d" stroke-width="2"/>
<rect x="323" y="1149.3" width="17" height="437.7" fill="#bfbebe" stroke="#0d0d0d" stroke-width="2"/>
<rect x="357.5" y="1581.5" width="17" height="5.5" fill="#2d4b7b" stroke="#0d0d0d" stroke-width="2"/>
<rect x="374.5" y="1581" width="17" height="6" fill="#86b8df" stroke="#0d0d0d" stroke-width="2"/>
<rect x="391.5" y="1578.5" width="17" height="8.5" fill="#1f8fce" stroke="#0d0d0d" stroke-width="2"/>
<rect x="408.5" y="1580" width="17" height="7" fill="#bfbebe" stroke="#0d0d0d" stroke-width="2"/>
<rect x="442.1" y="1488.7" width="17" height="98.3" fill="#2d4b7b" stroke="#0d0d0d" stroke-width="2"/>
<rect x="459.1" y="1524.3" width="17" height="62.7" fill="#86b8df" stroke="#0d0d0d" stroke-width="2"/>
<rect x="476.1" y="1533.7" width="17" height="53.3" fill="#1f8fce" stroke="#0d0d0d" stroke-width="2"/>
<rect x="493.1" y="1543" width="17" height="44" fill="#bfbebe" stroke="#0d0d0d" stroke-width="2"/>
<rect x="526.8" y="1504.2" width="17" height="82.8" fill="#2d4b7b" stroke="#0d0d0d" stroke-width="2"/>
<rect x="543.8" y="1553.8" width="17" height="33.2" fill="#86b8df" stroke="#0d0d0d" stroke-width="2"/>
<rect x="560.8" y="1573" width="17" height="14" fill="#1f8fce" stroke="#0d0d0d" stroke-width="2"/>
<rect x="577.8" y="1574.9" width="17" height="12.1" fill="#bfbebe" stroke="#0d0d0d" stroke-width="2"/>
<rect x="611.3" y="1555.7" width="17" height="31.3" fill="#2d4b7b" stroke="#0d0d0d" stroke-width="2"/>
<rect x="628.3" y="1565.4" width="17" height="21.6" fill="#86b8df" stroke="#0d0d0d" stroke-width="2"/>
<rect x="645.3" y="1570.8" width="17" height="16.2" fill="#1f8fce" stroke="#0d0d0d" stroke-width="2"/>
<rect x="662.3" y="1551" width="17" height="36" fill="#bfbebe" stroke="#0d0d0d" stroke-width="2"/>
<rect x="695.8" y="1475.2" width="17" height="111.8" fill="#2d4b7b" stroke="#0d0d0d" stroke-width="2"/>
<rect x="712.8" y="1433.3" width="17" height="153.7" fill="#86b8df" stroke="#0d0d0d" stroke-width="2"/>
<rect x="729.8" y="1339" width="17" height="248" fill="#1f8fce" stroke="#0d0d0d" stroke-width="2"/>
<rect x="746.8" y="1318.3" width="17" height="268.7" fill="#bfbebe" stroke="#0d0d0d" stroke-width="2"/>
<rect x="780.1" y="1560.5" width="17" height="26.5" fill="#2d4b7b" stroke="#0d0d0d" stroke-width="2"/>
<rect x="797.1" y="1556.3" width="17" height="30.7" fill="#86b8df" stroke="#0d0d0d" stroke-width="2"/>
<rect x="814.1" y="1515.3" width="17" height="71.7" fill="#1f8fce" stroke="#0d0d0d" stroke-width="2"/>
<rect x="831.1" y="1552.1" width="17" height="34.9" fill="#bfbebe" stroke="#0d0d0d" stroke-width="2"/>
<line x1="111.2" y1="1580" x2="111.2" y2="1583" stroke="#0d0d0d" stroke-width="2" stroke-linecap="butt"/>
<line x1="101.6" y1="1580" x2="120.8" y2="1580" stroke="#0d0d0d" stroke-width="2" stroke-linecap="butt"/>
<line x1="101.6" y1="1583" x2="120.8" y2="1583" stroke="#0d0d0d" stroke-width="2" stroke-linecap="butt"/>
<path d="M111.2 1575.05L117.85 1585.95H104.55Z" fill="#dedede" stroke="#0d0d0d" stroke-width="1.9" stroke-linejoin="miter"/>
<path d="M111.2 1576.05L117.85 1586.95H104.55Z" fill="#dedede" stroke="#0d0d0d" stroke-width="1.9" stroke-linejoin="miter"/>
<line x1="128.2" y1="1544" x2="128.2" y2="1573" stroke="#0d0d0d" stroke-width="2" stroke-linecap="butt"/>
<line x1="118.6" y1="1544" x2="137.8" y2="1544" stroke="#0d0d0d" stroke-width="2" stroke-linecap="butt"/>
<line x1="118.6" y1="1573" x2="137.8" y2="1573" stroke="#0d0d0d" stroke-width="2" stroke-linecap="butt"/>
<path d="M128.2 1567.55L134.85 1578.45H121.55Z" fill="#dedede" stroke="#0d0d0d" stroke-width="1.9" stroke-linejoin="miter"/>
<path d="M128.2 1557.25L134.85 1568.15H121.55Z" fill="#dedede" stroke="#0d0d0d" stroke-width="1.9" stroke-linejoin="miter"/>
<path d="M128.2 1534.55L134.85 1545.45H121.55Z" fill="#dedede" stroke="#0d0d0d" stroke-width="1.9" stroke-linejoin="miter"/>
<line x1="145.2" y1="1526.2" x2="145.2" y2="1558" stroke="#0d0d0d" stroke-width="2" stroke-linecap="butt"/>
<line x1="135.6" y1="1526.2" x2="154.8" y2="1526.2" stroke="#0d0d0d" stroke-width="2" stroke-linecap="butt"/>
<line x1="135.6" y1="1558" x2="154.8" y2="1558" stroke="#0d0d0d" stroke-width="2" stroke-linecap="butt"/>
<path d="M145.2 1551.65L151.85 1562.55H138.55Z" fill="#dedede" stroke="#0d0d0d" stroke-width="1.9" stroke-linejoin="miter"/>
<path d="M145.2 1537.55L151.85 1548.45H138.55Z" fill="#dedede" stroke="#0d0d0d" stroke-width="1.9" stroke-linejoin="miter"/>
<path d="M145.2 1517.65L151.85 1528.55H138.55Z" fill="#dedede" stroke="#0d0d0d" stroke-width="1.9" stroke-linejoin="miter"/>
<line x1="162.2" y1="1547.3" x2="162.2" y2="1572" stroke="#0d0d0d" stroke-width="2" stroke-linecap="butt"/>
<line x1="152.6" y1="1547.3" x2="171.8" y2="1547.3" stroke="#0d0d0d" stroke-width="2" stroke-linecap="butt"/>
<line x1="152.6" y1="1572" x2="171.8" y2="1572" stroke="#0d0d0d" stroke-width="2" stroke-linecap="butt"/>
<path d="M162.2 1566.85L168.85 1577.75H155.55Z" fill="#dedede" stroke="#0d0d0d" stroke-width="1.9" stroke-linejoin="miter"/>
<path d="M162.2 1553.05L168.85 1563.95H155.55Z" fill="#dedede" stroke="#0d0d0d" stroke-width="1.9" stroke-linejoin="miter"/>
<path d="M162.2 1540.15L168.85 1551.05H155.55Z" fill="#dedede" stroke="#0d0d0d" stroke-width="1.9" stroke-linejoin="miter"/>
<line x1="196.1" y1="1575" x2="196.1" y2="1583" stroke="#0d0d0d" stroke-width="2" stroke-linecap="butt"/>
<line x1="186.5" y1="1575" x2="205.7" y2="1575" stroke="#0d0d0d" stroke-width="2" stroke-linecap="butt"/>
<line x1="186.5" y1="1583" x2="205.7" y2="1583" stroke="#0d0d0d" stroke-width="2" stroke-linecap="butt"/>
<path d="M196.1 1576.95L202.75 1587.85H189.45Z" fill="#dedede" stroke="#0d0d0d" stroke-width="1.9" stroke-linejoin="miter"/>
<path d="M196.1 1569.55L202.75 1580.45H189.45Z" fill="#dedede" stroke="#0d0d0d" stroke-width="1.9" stroke-linejoin="miter"/>
<line x1="213.1" y1="1569" x2="213.1" y2="1580" stroke="#0d0d0d" stroke-width="2" stroke-linecap="butt"/>
<line x1="203.5" y1="1569" x2="222.7" y2="1569" stroke="#0d0d0d" stroke-width="2" stroke-linecap="butt"/>
<line x1="203.5" y1="1580" x2="222.7" y2="1580" stroke="#0d0d0d" stroke-width="2" stroke-linecap="butt"/>
<path d="M213.1 1567.55L219.75 1578.45H206.45Z" fill="#dedede" stroke="#0d0d0d" stroke-width="1.9" stroke-linejoin="miter"/>
<path d="M213.1 1564.25L219.75 1575.15H206.45Z" fill="#dedede" stroke="#0d0d0d" stroke-width="1.9" stroke-linejoin="miter"/>
<line x1="230.1" y1="1552" x2="230.1" y2="1560" stroke="#0d0d0d" stroke-width="2" stroke-linecap="butt"/>
<line x1="220.5" y1="1552" x2="239.7" y2="1552" stroke="#0d0d0d" stroke-width="2" stroke-linecap="butt"/>
<line x1="220.5" y1="1560" x2="239.7" y2="1560" stroke="#0d0d0d" stroke-width="2" stroke-linecap="butt"/>
<path d="M230.1 1550.45L236.75 1561.35H223.45Z" fill="#dedede" stroke="#0d0d0d" stroke-width="1.9" stroke-linejoin="miter"/>
<path d="M230.1 1545.25L236.75 1556.15H223.45Z" fill="#dedede" stroke="#0d0d0d" stroke-width="1.9" stroke-linejoin="miter"/>
<line x1="247.1" y1="1561.3" x2="247.1" y2="1579" stroke="#0d0d0d" stroke-width="2" stroke-linecap="butt"/>
<line x1="237.5" y1="1561.3" x2="256.7" y2="1561.3" stroke="#0d0d0d" stroke-width="2" stroke-linecap="butt"/>
<line x1="237.5" y1="1579" x2="256.7" y2="1579" stroke="#0d0d0d" stroke-width="2" stroke-linecap="butt"/>
<path d="M247.1 1572.75L253.75 1583.65H240.45Z" fill="#dedede" stroke="#0d0d0d" stroke-width="1.9" stroke-linejoin="miter"/>
<path d="M247.1 1561.95L253.75 1572.85H240.45Z" fill="#dedede" stroke="#0d0d0d" stroke-width="1.9" stroke-linejoin="miter"/>
<path d="M247.1 1554.15L253.75 1565.05H240.45Z" fill="#dedede" stroke="#0d0d0d" stroke-width="1.9" stroke-linejoin="miter"/>
<line x1="280.5" y1="1297.6" x2="280.5" y2="1509.8" stroke="#0d0d0d" stroke-width="2" stroke-linecap="butt"/>
<line x1="270.9" y1="1297.6" x2="290.1" y2="1297.6" stroke="#0d0d0d" stroke-width="2" stroke-linecap="butt"/>
<line x1="270.9" y1="1509.8" x2="290.1" y2="1509.8" stroke="#0d0d0d" stroke-width="2" stroke-linecap="butt"/>
<path d="M280.5 1519.35L287.15 1530.25H273.85Z" fill="#dedede" stroke="#0d0d0d" stroke-width="1.9" stroke-linejoin="miter"/>
<path d="M280.5 1340.15L287.15 1351.05H273.85Z" fill="#dedede" stroke="#0d0d0d" stroke-width="1.9" stroke-linejoin="miter"/>
<path d="M280.5 1331.75L287.15 1342.65H273.85Z" fill="#dedede" stroke="#0d0d0d" stroke-width="1.9" stroke-linejoin="miter"/>
<line x1="297.5" y1="1384.8" x2="297.5" y2="1518.6" stroke="#0d0d0d" stroke-width="2" stroke-linecap="butt"/>
<line x1="287.9" y1="1384.8" x2="307.1" y2="1384.8" stroke="#0d0d0d" stroke-width="2" stroke-linecap="butt"/>
<line x1="287.9" y1="1518.6" x2="307.1" y2="1518.6" stroke="#0d0d0d" stroke-width="2" stroke-linecap="butt"/>
<path d="M297.5 1500.35L304.15 1511.25H290.85Z" fill="#dedede" stroke="#0d0d0d" stroke-width="1.9" stroke-linejoin="miter"/>
<path d="M297.5 1463.25L304.15 1474.15H290.85Z" fill="#dedede" stroke="#0d0d0d" stroke-width="1.9" stroke-linejoin="miter"/>
<path d="M297.5 1369.75L304.15 1380.65H290.85Z" fill="#dedede" stroke="#0d0d0d" stroke-width="1.9" stroke-linejoin="miter"/>
<line x1="314.5" y1="1266.5" x2="314.5" y2="1387.8" stroke="#0d0d0d" stroke-width="2" stroke-linecap="butt"/>
<line x1="304.9" y1="1266.5" x2="324.1" y2="1266.5" stroke="#0d0d0d" stroke-width="2" stroke-linecap="butt"/>
<line x1="304.9" y1="1387.8" x2="324.1" y2="1387.8" stroke="#0d0d0d" stroke-width="2" stroke-linecap="butt"/>
<path d="M314.5 1366.55L321.15 1377.45H307.85Z" fill="#dedede" stroke="#0d0d0d" stroke-width="1.9" stroke-linejoin="miter"/>
<path d="M314.5 1342.35L321.15 1353.25H307.85Z" fill="#dedede" stroke="#0d0d0d" stroke-width="1.9" stroke-linejoin="miter"/>
<path d="M314.5 1250.45L321.15 1261.35H307.85Z" fill="#dedede" stroke="#0d0d0d" stroke-width="1.9" stroke-linejoin="miter"/>
<line x1="331.5" y1="1021.1" x2="331.5" y2="1277.8" stroke="#0d0d0d" stroke-width="2" stroke-linecap="butt"/>
<line x1="321.9" y1="1021.1" x2="341.1" y2="1021.1" stroke="#0d0d0d" stroke-width="2" stroke-linecap="butt"/>
<line x1="321.9" y1="1277.8" x2="341.1" y2="1277.8" stroke="#0d0d0d" stroke-width="2" stroke-linecap="butt"/>
<path d="M331.5 1289.55L338.15 1300.45H324.85Z" fill="#dedede" stroke="#0d0d0d" stroke-width="1.9" stroke-linejoin="miter"/>
<path d="M331.5 1077.95L338.15 1088.85H324.85Z" fill="#dedede" stroke="#0d0d0d" stroke-width="1.9" stroke-linejoin="miter"/>
<path d="M331.5 1059.55L338.15 1070.45H324.85Z" fill="#dedede" stroke="#0d0d0d" stroke-width="1.9" stroke-linejoin="miter"/>
<line x1="366" y1="1579" x2="366" y2="1584" stroke="#0d0d0d" stroke-width="2" stroke-linecap="butt"/>
<line x1="356.4" y1="1579" x2="375.6" y2="1579" stroke="#0d0d0d" stroke-width="2" stroke-linecap="butt"/>
<line x1="356.4" y1="1584" x2="375.6" y2="1584" stroke="#0d0d0d" stroke-width="2" stroke-linecap="butt"/>
<path d="M366 1574.05L372.65 1584.95H359.35Z" fill="#dedede" stroke="#0d0d0d" stroke-width="1.9" stroke-linejoin="miter"/>
<path d="M366 1572.55L372.65 1583.45H359.35Z" fill="#dedede" stroke="#0d0d0d" stroke-width="1.9" stroke-linejoin="miter"/>
<line x1="383" y1="1577" x2="383" y2="1584" stroke="#0d0d0d" stroke-width="2" stroke-linecap="butt"/>
<line x1="373.4" y1="1577" x2="392.6" y2="1577" stroke="#0d0d0d" stroke-width="2" stroke-linecap="butt"/>
<line x1="373.4" y1="1584" x2="392.6" y2="1584" stroke="#0d0d0d" stroke-width="2" stroke-linecap="butt"/>
<path d="M383 1574.55L389.65 1585.45H376.35Z" fill="#dedede" stroke="#0d0d0d" stroke-width="1.9" stroke-linejoin="miter"/>
<path d="M383 1569.35L389.65 1580.25H376.35Z" fill="#dedede" stroke="#0d0d0d" stroke-width="1.9" stroke-linejoin="miter"/>
<line x1="400" y1="1575" x2="400" y2="1582" stroke="#0d0d0d" stroke-width="2" stroke-linecap="butt"/>
<line x1="390.4" y1="1575" x2="409.6" y2="1575" stroke="#0d0d0d" stroke-width="2" stroke-linecap="butt"/>
<line x1="390.4" y1="1582" x2="409.6" y2="1582" stroke="#0d0d0d" stroke-width="2" stroke-linecap="butt"/>
<path d="M400 1572.55L406.65 1583.45H393.35Z" fill="#dedede" stroke="#0d0d0d" stroke-width="1.9" stroke-linejoin="miter"/>
<path d="M400 1570.25L406.65 1581.15H393.35Z" fill="#dedede" stroke="#0d0d0d" stroke-width="1.9" stroke-linejoin="miter"/>
<line x1="417" y1="1576" x2="417" y2="1584" stroke="#0d0d0d" stroke-width="2" stroke-linecap="butt"/>
<line x1="407.4" y1="1576" x2="426.6" y2="1576" stroke="#0d0d0d" stroke-width="2" stroke-linecap="butt"/>
<line x1="407.4" y1="1584" x2="426.6" y2="1584" stroke="#0d0d0d" stroke-width="2" stroke-linecap="butt"/>
<path d="M417 1574.55L423.65 1585.45H410.35Z" fill="#dedede" stroke="#0d0d0d" stroke-width="1.9" stroke-linejoin="miter"/>
<path d="M417 1569.35L423.65 1580.25H410.35Z" fill="#dedede" stroke="#0d0d0d" stroke-width="1.9" stroke-linejoin="miter"/>
<line x1="450.6" y1="1477" x2="450.6" y2="1501.4" stroke="#0d0d0d" stroke-width="2" stroke-linecap="butt"/>
<line x1="441" y1="1477" x2="460.2" y2="1477" stroke="#0d0d0d" stroke-width="2" stroke-linecap="butt"/>
<line x1="441" y1="1501.4" x2="460.2" y2="1501.4" stroke="#0d0d0d" stroke-width="2" stroke-linecap="butt"/>
<path d="M450.6 1494.05L457.25 1504.95H443.95Z" fill="#dedede" stroke="#0d0d0d" stroke-width="1.9" stroke-linejoin="miter"/>
<path d="M450.6 1482.75L457.25 1493.65H443.95Z" fill="#dedede" stroke="#0d0d0d" stroke-width="1.9" stroke-linejoin="miter"/>
<path d="M450.6 1468.75L457.25 1479.65H443.95Z" fill="#dedede" stroke="#0d0d0d" stroke-width="1.9" stroke-linejoin="miter"/>
<line x1="467.6" y1="1505.1" x2="467.6" y2="1543" stroke="#0d0d0d" stroke-width="2" stroke-linecap="butt"/>
<line x1="458" y1="1505.1" x2="477.2" y2="1505.1" stroke="#0d0d0d" stroke-width="2" stroke-linecap="butt"/>
<line x1="458" y1="1543" x2="477.2" y2="1543" stroke="#0d0d0d" stroke-width="2" stroke-linecap="butt"/>
<path d="M467.6 1536.15L474.25 1547.05H460.95Z" fill="#dedede" stroke="#0d0d0d" stroke-width="1.9" stroke-linejoin="miter"/>
<path d="M467.6 1515.35L474.25 1526.25H460.95Z" fill="#dedede" stroke="#0d0d0d" stroke-width="1.9" stroke-linejoin="miter"/>
<path d="M467.6 1498.45L474.25 1509.35H460.95Z" fill="#dedede" stroke="#0d0d0d" stroke-width="1.9" stroke-linejoin="miter"/>
<line x1="484.6" y1="1533.7" x2="484.6" y2="1544" stroke="#0d0d0d" stroke-width="2" stroke-linecap="butt"/>
<line x1="475" y1="1533.7" x2="494.2" y2="1533.7" stroke="#0d0d0d" stroke-width="2" stroke-linecap="butt"/>
<line x1="475" y1="1544" x2="494.2" y2="1544" stroke="#0d0d0d" stroke-width="2" stroke-linecap="butt"/>
<path d="M484.6 1529.15L491.25 1540.05H477.95Z" fill="#dedede" stroke="#0d0d0d" stroke-width="1.9" stroke-linejoin="miter"/>
<path d="M484.6 1527.25L491.25 1538.15H477.95Z" fill="#dedede" stroke="#0d0d0d" stroke-width="1.9" stroke-linejoin="miter"/>
<line x1="501.6" y1="1538.4" x2="501.6" y2="1548.7" stroke="#0d0d0d" stroke-width="2" stroke-linecap="butt"/>
<line x1="492" y1="1538.4" x2="511.2" y2="1538.4" stroke="#0d0d0d" stroke-width="2" stroke-linecap="butt"/>
<line x1="492" y1="1548.7" x2="511.2" y2="1548.7" stroke="#0d0d0d" stroke-width="2" stroke-linecap="butt"/>
<path d="M501.6 1542.05L508.25 1552.95H494.95Z" fill="#dedede" stroke="#0d0d0d" stroke-width="1.9" stroke-linejoin="miter"/>
<path d="M501.6 1530.75L508.25 1541.65H494.95Z" fill="#dedede" stroke="#0d0d0d" stroke-width="1.9" stroke-linejoin="miter"/>
<line x1="535.3" y1="1485" x2="535.3" y2="1523.8" stroke="#0d0d0d" stroke-width="2" stroke-linecap="butt"/>
<line x1="525.7" y1="1485" x2="544.9" y2="1485" stroke="#0d0d0d" stroke-width="2" stroke-linecap="butt"/>
<line x1="525.7" y1="1523.8" x2="544.9" y2="1523.8" stroke="#0d0d0d" stroke-width="2" stroke-linecap="butt"/>
<path d="M535.3 1519.35L541.95 1530.25H528.65Z" fill="#dedede" stroke="#0d0d0d" stroke-width="1.9" stroke-linejoin="miter"/>
<path d="M535.3 1490.25L541.95 1501.15H528.65Z" fill="#dedede" stroke="#0d0d0d" stroke-width="1.9" stroke-linejoin="miter"/>
<path d="M535.3 1481.55L541.95 1492.45H528.65Z" fill="#dedede" stroke="#0d0d0d" stroke-width="1.9" stroke-linejoin="miter"/>
<line x1="552.3" y1="1527.1" x2="552.3" y2="1580.5" stroke="#0d0d0d" stroke-width="2" stroke-linecap="butt"/>
<line x1="542.7" y1="1527.1" x2="561.9" y2="1527.1" stroke="#0d0d0d" stroke-width="2" stroke-linecap="butt"/>
<line x1="542.7" y1="1580.5" x2="561.9" y2="1580.5" stroke="#0d0d0d" stroke-width="2" stroke-linecap="butt"/>
<path d="M552.3 1578.35L558.95 1589.25H545.65Z" fill="#dedede" stroke="#0d0d0d" stroke-width="1.9" stroke-linejoin="miter"/>
<path d="M552.3 1538.25L558.95 1549.15H545.65Z" fill="#dedede" stroke="#0d0d0d" stroke-width="1.9" stroke-linejoin="miter"/>
<path d="M552.3 1524.45L558.95 1535.35H545.65Z" fill="#dedede" stroke="#0d0d0d" stroke-width="1.9" stroke-linejoin="miter"/>
<line x1="569.3" y1="1565.5" x2="569.3" y2="1570.2" stroke="#0d0d0d" stroke-width="2" stroke-linecap="butt"/>
<line x1="559.7" y1="1565.5" x2="578.9" y2="1565.5" stroke="#0d0d0d" stroke-width="2" stroke-linecap="butt"/>
<line x1="559.7" y1="1570.2" x2="578.9" y2="1570.2" stroke="#0d0d0d" stroke-width="2" stroke-linecap="butt"/>
<path d="M569.3 1563.35L575.95 1574.25H562.65Z" fill="#dedede" stroke="#0d0d0d" stroke-width="1.9" stroke-linejoin="miter"/>
<path d="M569.3 1556.35L575.95 1567.25H562.65Z" fill="#dedede" stroke="#0d0d0d" stroke-width="1.9" stroke-linejoin="miter"/>
<line x1="586.3" y1="1559" x2="586.3" y2="1570" stroke="#0d0d0d" stroke-width="2" stroke-linecap="butt"/>
<line x1="576.7" y1="1559" x2="595.9" y2="1559" stroke="#0d0d0d" stroke-width="2" stroke-linecap="butt"/>
<line x1="576.7" y1="1570" x2="595.9" y2="1570" stroke="#0d0d0d" stroke-width="2" stroke-linecap="butt"/>
<path d="M586.3 1563.85L592.95 1574.75H579.65Z" fill="#dedede" stroke="#0d0d0d" stroke-width="1.9" stroke-linejoin="miter"/>
<path d="M586.3 1551.35L592.95 1562.25H579.65Z" fill="#dedede" stroke="#0d0d0d" stroke-width="1.9" stroke-linejoin="miter"/>
<line x1="619.8" y1="1550.3" x2="619.8" y2="1557.5" stroke="#0d0d0d" stroke-width="2" stroke-linecap="butt"/>
<line x1="610.2" y1="1550.3" x2="629.4" y2="1550.3" stroke="#0d0d0d" stroke-width="2" stroke-linecap="butt"/>
<line x1="610.2" y1="1557.5" x2="629.4" y2="1557.5" stroke="#0d0d0d" stroke-width="2" stroke-linecap="butt"/>
<path d="M619.8 1550.25L626.45 1561.15H613.15Z" fill="#dedede" stroke="#0d0d0d" stroke-width="1.9" stroke-linejoin="miter"/>
<path d="M619.8 1546.55L626.45 1557.45H613.15Z" fill="#dedede" stroke="#0d0d0d" stroke-width="1.9" stroke-linejoin="miter"/>
<path d="M619.8 1543.55L626.45 1554.45H613.15Z" fill="#dedede" stroke="#0d0d0d" stroke-width="1.9" stroke-linejoin="miter"/>
<line x1="636.8" y1="1543.4" x2="636.8" y2="1580.4" stroke="#0d0d0d" stroke-width="2" stroke-linecap="butt"/>
<line x1="627.2" y1="1543.4" x2="646.4" y2="1543.4" stroke="#0d0d0d" stroke-width="2" stroke-linecap="butt"/>
<line x1="627.2" y1="1580.4" x2="646.4" y2="1580.4" stroke="#0d0d0d" stroke-width="2" stroke-linecap="butt"/>
<path d="M636.8 1572.25L643.45 1583.15H630.15Z" fill="#dedede" stroke="#0d0d0d" stroke-width="1.9" stroke-linejoin="miter"/>
<path d="M636.8 1553.85L643.45 1564.75H630.15Z" fill="#dedede" stroke="#0d0d0d" stroke-width="1.9" stroke-linejoin="miter"/>
<path d="M636.8 1535.55L643.45 1546.45H630.15Z" fill="#dedede" stroke="#0d0d0d" stroke-width="1.9" stroke-linejoin="miter"/>
<line x1="653.8" y1="1555.7" x2="653.8" y2="1563.6" stroke="#0d0d0d" stroke-width="2" stroke-linecap="butt"/>
<line x1="644.2" y1="1555.7" x2="663.4" y2="1555.7" stroke="#0d0d0d" stroke-width="2" stroke-linecap="butt"/>
<line x1="644.2" y1="1563.6" x2="663.4" y2="1563.6" stroke="#0d0d0d" stroke-width="2" stroke-linecap="butt"/>
<path d="M653.8 1559.35L660.45 1570.25H647.15Z" fill="#dedede" stroke="#0d0d0d" stroke-width="1.9" stroke-linejoin="miter"/>
<path d="M653.8 1545.65L660.45 1556.55H647.15Z" fill="#dedede" stroke="#0d0d0d" stroke-width="1.9" stroke-linejoin="miter"/>
<line x1="670.8" y1="1543.7" x2="670.8" y2="1559.3" stroke="#0d0d0d" stroke-width="2" stroke-linecap="butt"/>
<line x1="661.2" y1="1543.7" x2="680.4" y2="1543.7" stroke="#0d0d0d" stroke-width="2" stroke-linecap="butt"/>
<line x1="661.2" y1="1559.3" x2="680.4" y2="1559.3" stroke="#0d0d0d" stroke-width="2" stroke-linecap="butt"/>
<path d="M670.8 1550.05L677.45 1560.95H664.15Z" fill="#dedede" stroke="#0d0d0d" stroke-width="1.9" stroke-linejoin="miter"/>
<path d="M670.8 1535.55L677.45 1546.45H664.15Z" fill="#dedede" stroke="#0d0d0d" stroke-width="1.9" stroke-linejoin="miter"/>
<line x1="704.3" y1="1438" x2="704.3" y2="1512.3" stroke="#0d0d0d" stroke-width="2" stroke-linecap="butt"/>
<line x1="694.7" y1="1438" x2="713.9" y2="1438" stroke="#0d0d0d" stroke-width="2" stroke-linecap="butt"/>
<line x1="694.7" y1="1512.3" x2="713.9" y2="1512.3" stroke="#0d0d0d" stroke-width="2" stroke-linecap="butt"/>
<path d="M704.3 1498.15L710.95 1509.05H697.65Z" fill="#dedede" stroke="#0d0d0d" stroke-width="1.9" stroke-linejoin="miter"/>
<path d="M704.3 1481.35L710.95 1492.25H697.65Z" fill="#dedede" stroke="#0d0d0d" stroke-width="1.9" stroke-linejoin="miter"/>
<path d="M704.3 1426.05L710.95 1436.95H697.65Z" fill="#dedede" stroke="#0d0d0d" stroke-width="1.9" stroke-linejoin="miter"/>
<line x1="721.3" y1="1380.6" x2="721.3" y2="1485.6" stroke="#0d0d0d" stroke-width="2" stroke-linecap="butt"/>
<line x1="711.7" y1="1380.6" x2="730.9" y2="1380.6" stroke="#0d0d0d" stroke-width="2" stroke-linecap="butt"/>
<line x1="711.7" y1="1485.6" x2="730.9" y2="1485.6" stroke="#0d0d0d" stroke-width="2" stroke-linecap="butt"/>
<path d="M721.3 1461.65L727.95 1472.55H714.65Z" fill="#dedede" stroke="#0d0d0d" stroke-width="1.9" stroke-linejoin="miter"/>
<path d="M721.3 1452.65L727.95 1463.55H714.65Z" fill="#dedede" stroke="#0d0d0d" stroke-width="1.9" stroke-linejoin="miter"/>
<path d="M721.3 1365.55L727.95 1376.45H714.65Z" fill="#dedede" stroke="#0d0d0d" stroke-width="1.9" stroke-linejoin="miter"/>
<line x1="738.3" y1="1312.7" x2="738.3" y2="1366" stroke="#0d0d0d" stroke-width="2" stroke-linecap="butt"/>
<line x1="728.7" y1="1312.7" x2="747.9" y2="1312.7" stroke="#0d0d0d" stroke-width="2" stroke-linecap="butt"/>
<line x1="728.7" y1="1366" x2="747.9" y2="1366" stroke="#0d0d0d" stroke-width="2" stroke-linecap="butt"/>
<path d="M738.3 1363.45L744.95 1374.35H731.65Z" fill="#dedede" stroke="#0d0d0d" stroke-width="1.9" stroke-linejoin="miter"/>
<path d="M738.3 1318.95L744.95 1329.85H731.65Z" fill="#dedede" stroke="#0d0d0d" stroke-width="1.9" stroke-linejoin="miter"/>
<path d="M738.3 1317.15L744.95 1328.05H731.65Z" fill="#dedede" stroke="#0d0d0d" stroke-width="1.9" stroke-linejoin="miter"/>
<line x1="755.3" y1="1303.9" x2="755.3" y2="1333.8" stroke="#0d0d0d" stroke-width="2" stroke-linecap="butt"/>
<line x1="745.7" y1="1303.9" x2="764.9" y2="1303.9" stroke="#0d0d0d" stroke-width="2" stroke-linecap="butt"/>
<line x1="745.7" y1="1333.8" x2="764.9" y2="1333.8" stroke="#0d0d0d" stroke-width="2" stroke-linecap="butt"/>
<path d="M755.3 1323.65L761.95 1334.55H748.65Z" fill="#dedede" stroke="#0d0d0d" stroke-width="1.9" stroke-linejoin="miter"/>
<path d="M755.3 1316.55L761.95 1327.45H748.65Z" fill="#dedede" stroke="#0d0d0d" stroke-width="1.9" stroke-linejoin="miter"/>
<path d="M755.3 1294.35L761.95 1305.25H748.65Z" fill="#dedede" stroke="#0d0d0d" stroke-width="1.9" stroke-linejoin="miter"/>
<line x1="788.6" y1="1550.3" x2="788.6" y2="1572.6" stroke="#0d0d0d" stroke-width="2" stroke-linecap="butt"/>
<line x1="779" y1="1550.3" x2="798.2" y2="1550.3" stroke="#0d0d0d" stroke-width="2" stroke-linecap="butt"/>
<line x1="779" y1="1572.6" x2="798.2" y2="1572.6" stroke="#0d0d0d" stroke-width="2" stroke-linecap="butt"/>
<path d="M788.6 1565.65L795.25 1576.55H781.95Z" fill="#dedede" stroke="#0d0d0d" stroke-width="1.9" stroke-linejoin="miter"/>
<path d="M788.6 1554.85L795.25 1565.75H781.95Z" fill="#dedede" stroke="#0d0d0d" stroke-width="1.9" stroke-linejoin="miter"/>
<path d="M788.6 1542.45L795.25 1553.35H781.95Z" fill="#dedede" stroke="#0d0d0d" stroke-width="1.9" stroke-linejoin="miter"/>
<line x1="805.6" y1="1539.4" x2="805.6" y2="1573.2" stroke="#0d0d0d" stroke-width="2" stroke-linecap="butt"/>
<line x1="796" y1="1539.4" x2="815.2" y2="1539.4" stroke="#0d0d0d" stroke-width="2" stroke-linecap="butt"/>
<line x1="796" y1="1573.2" x2="815.2" y2="1573.2" stroke="#0d0d0d" stroke-width="2" stroke-linecap="butt"/>
<path d="M805.6 1568.15L812.25 1579.05H798.95Z" fill="#dedede" stroke="#0d0d0d" stroke-width="1.9" stroke-linejoin="miter"/>
<path d="M805.6 1545.65L812.25 1556.55H798.95Z" fill="#dedede" stroke="#0d0d0d" stroke-width="1.9" stroke-linejoin="miter"/>
<path d="M805.6 1534.85L812.25 1545.75H798.95Z" fill="#dedede" stroke="#0d0d0d" stroke-width="1.9" stroke-linejoin="miter"/>
<line x1="822.6" y1="1492.4" x2="822.6" y2="1538.8" stroke="#0d0d0d" stroke-width="2" stroke-linecap="butt"/>
<line x1="813" y1="1492.4" x2="832.2" y2="1492.4" stroke="#0d0d0d" stroke-width="2" stroke-linecap="butt"/>
<line x1="813" y1="1538.8" x2="832.2" y2="1538.8" stroke="#0d0d0d" stroke-width="2" stroke-linecap="butt"/>
<path d="M822.6 1527.35L829.25 1538.25H815.95Z" fill="#dedede" stroke="#0d0d0d" stroke-width="1.9" stroke-linejoin="miter"/>
<path d="M822.6 1518.35L829.25 1529.25H815.95Z" fill="#dedede" stroke="#0d0d0d" stroke-width="1.9" stroke-linejoin="miter"/>
<path d="M822.6 1481.35L829.25 1492.25H815.95Z" fill="#dedede" stroke="#0d0d0d" stroke-width="1.9" stroke-linejoin="miter"/>
<line x1="839.6" y1="1537.6" x2="839.6" y2="1547.3" stroke="#0d0d0d" stroke-width="2" stroke-linecap="butt"/>
<line x1="830" y1="1537.6" x2="849.2" y2="1537.6" stroke="#0d0d0d" stroke-width="2" stroke-linecap="butt"/>
<line x1="830" y1="1547.3" x2="849.2" y2="1547.3" stroke="#0d0d0d" stroke-width="2" stroke-linecap="butt"/>
<path d="M839.6 1541.55L846.25 1552.45H832.95Z" fill="#dedede" stroke="#0d0d0d" stroke-width="1.9" stroke-linejoin="miter"/>
<path d="M839.6 1530.65L846.25 1541.55H832.95Z" fill="#dedede" stroke="#0d0d0d" stroke-width="1.9" stroke-linejoin="miter"/>
<text transform="translate(125.97 1511.46) scale(1.25 1)" font-size="22.7" font-weight="bold" letter-spacing="2.05" fill="#000">***</text>
<text transform="translate(123.17 1530.86) scale(1.25 1)" font-size="22.7" font-weight="bold" letter-spacing="2.05" fill="#000">*</text>
<text transform="translate(150.37 1535.96) scale(1.25 1)" font-size="22.7" font-weight="bold" letter-spacing="2.05" fill="#000">**</text>
<text transform="translate(217.77 1541.56) scale(1.25 1)" font-size="22.7" font-weight="bold" letter-spacing="2.05" fill="#000">**</text>
<text transform="translate(241.67 1554.96) scale(1.25 1)" font-size="22.7" font-weight="bold" letter-spacing="2.05" fill="#000">*</text>
<text transform="translate(394.07 1566.96) scale(1.25 1)" font-size="22.7" font-weight="bold" letter-spacing="2.05" fill="#000">*</text>
<text transform="translate(472.87 1523.46) scale(1.25 1)" font-size="22.7" font-weight="bold" letter-spacing="2.05" fill="#000">**</text>
<text transform="translate(489.27 1534.66) scale(1.25 1)" font-size="22.7" font-weight="bold" letter-spacing="2.05" fill="#000">**</text>
<text transform="translate(573.67 1536.66) scale(1.25 1)" font-size="22.7" font-weight="bold" letter-spacing="2.05" fill="#000">**</text>
<text transform="translate(552.57 1549.56) scale(1.25 1)" font-size="22.7" font-weight="bold" letter-spacing="2.05" fill="#000">***</text>
<text transform="translate(742.47 1292.56) scale(1.25 1)" font-size="22.7" font-weight="bold" letter-spacing="2.05" fill="#000">**</text>
<text transform="translate(724.87 1307.96) scale(1.25 1)" font-size="22.7" font-weight="bold" letter-spacing="2.05" fill="#000">**</text>
<text transform="translate(816.27 1482.76) scale(1.25 1)" font-size="22.7" font-weight="bold" letter-spacing="2.05" fill="#000">*</text>
<text transform="translate(943.36 924.06) scale(1.0771299520739233 1)" font-size="54.36" text-anchor="start" fill="#1c191a" font-weight="bold">c</text>
<line x1="1016.9" y1="1054.46" x2="1016.9" y2="1588.45" stroke="#000" stroke-width="2.1" stroke-linecap="butt"/>
<line x1="1006.2" y1="1587.5" x2="1559" y2="1587.5" stroke="#000" stroke-width="2.1" stroke-linecap="butt"/>
<text transform="translate(999.6 1596.7) scale(0.787 1)" font-size="32" text-anchor="end" fill="#1c191a" stroke="#1c191a" stroke-width="0.6">0</text>
<line x1="1011.9" y1="1546.57" x2="1016.9" y2="1546.57" stroke="#000" stroke-width="2.1" stroke-linecap="butt"/>
<line x1="1006.2" y1="1505.64" x2="1016.9" y2="1505.64" stroke="#000" stroke-width="2.1" stroke-linecap="butt"/>
<text transform="translate(999.6 1514.84) scale(0.787 1)" font-size="32" text-anchor="end" fill="#1c191a" stroke="#1c191a" stroke-width="0.6">0.2</text>
<line x1="1011.9" y1="1464.71" x2="1016.9" y2="1464.71" stroke="#000" stroke-width="2.1" stroke-linecap="butt"/>
<line x1="1006.2" y1="1423.78" x2="1016.9" y2="1423.78" stroke="#000" stroke-width="2.1" stroke-linecap="butt"/>
<text transform="translate(999.6 1432.98) scale(0.787 1)" font-size="32" text-anchor="end" fill="#1c191a" stroke="#1c191a" stroke-width="0.6">0.4</text>
<line x1="1011.9" y1="1382.85" x2="1016.9" y2="1382.85" stroke="#000" stroke-width="2.1" stroke-linecap="butt"/>
<line x1="1006.2" y1="1341.92" x2="1016.9" y2="1341.92" stroke="#000" stroke-width="2.1" stroke-linecap="butt"/>
<text transform="translate(999.6 1351.12) scale(0.787 1)" font-size="32" text-anchor="end" fill="#1c191a" stroke="#1c191a" stroke-width="0.6">0.6</text>
<line x1="1011.9" y1="1300.99" x2="1016.9" y2="1300.99" stroke="#000" stroke-width="2.1" stroke-linecap="butt"/>
<line x1="1006.2" y1="1260.06" x2="1016.9" y2="1260.06" stroke="#000" stroke-width="2.1" stroke-linecap="butt"/>
<text transform="translate(999.6 1269.26) scale(0.787 1)" font-size="32" text-anchor="end" fill="#1c191a" stroke="#1c191a" stroke-width="0.6">0.8</text>
<line x1="1011.9" y1="1219.13" x2="1016.9" y2="1219.13" stroke="#000" stroke-width="2.1" stroke-linecap="butt"/>
<line x1="1006.2" y1="1178.2" x2="1016.9" y2="1178.2" stroke="#000" stroke-width="2.1" stroke-linecap="butt"/>
<text transform="translate(999.6 1187.4) scale(0.787 1)" font-size="32" text-anchor="end" fill="#1c191a" stroke="#1c191a" stroke-width="0.6">1.0</text>
<line x1="1011.9" y1="1137.27" x2="1016.9" y2="1137.27" stroke="#000" stroke-width="2.1" stroke-linecap="butt"/>
<line x1="1006.2" y1="1096.34" x2="1016.9" y2="1096.34" stroke="#000" stroke-width="2.1" stroke-linecap="butt"/>
<text transform="translate(999.6 1105.54) scale(0.787 1)" font-size="32" text-anchor="end" fill="#1c191a" stroke="#1c191a" stroke-width="0.6">1.2</text>
<line x1="1011.9" y1="1055.41" x2="1016.9" y2="1055.41" stroke="#000" stroke-width="2.1" stroke-linecap="butt"/>
<text transform="translate(947.1 1311.3) rotate(-90) scale(0.851 1)" font-size="39.5" text-anchor="middle" fill="#1c191a" stroke="#1c191a" stroke-width="0.6">Relative Luminescence</text>
<line x1="1049" y1="1587.5" x2="1049" y2="1599" stroke="#000" stroke-width="2.1" stroke-linecap="butt"/>
<text transform="translate(1049.3 1634.7) scale(0.8 1)" font-size="36.5" text-anchor="middle" fill="#1c191a" stroke="#1c191a" stroke-width="0.6">D0</text>
<line x1="1289.7" y1="1587.5" x2="1289.7" y2="1599" stroke="#000" stroke-width="2.1" stroke-linecap="butt"/>
<text transform="translate(1290 1634.7) scale(0.8 1)" font-size="36.5" text-anchor="middle" fill="#1c191a" stroke="#1c191a" stroke-width="0.6">D3</text>
<line x1="1526" y1="1587.5" x2="1526" y2="1599" stroke="#000" stroke-width="2.1" stroke-linecap="butt"/>
<text transform="translate(1526.3 1634.7) scale(0.8 1)" font-size="36.5" text-anchor="middle" fill="#1c191a" stroke="#1c191a" stroke-width="0.6">D7</text>
<polyline points="1049,1178.2 1289.7,1178.2 1526,1178.2" fill="none" stroke="#231f20" stroke-width="3.7" stroke-linejoin="round"/>
<polyline points="1049,1178.2 1289.7,1120.08 1526,1157.73" fill="none" stroke="#c8c6c6" stroke-width="3.7" stroke-linejoin="round"/>
<polyline points="1049,1178.2 1289.7,1188.84 1526,1115.99" fill="none" stroke="#6f9c81" stroke-width="3.7" stroke-linejoin="round"/>
<polyline points="1049,1178.2 1289.7,1178.2 1526,1115.58" fill="none" stroke="#1d5b49" stroke-width="3.7" stroke-linejoin="round"/>
<polyline points="1049,1509.73 1289.7,1416.62 1526,1435.24" fill="none" stroke="#7fb3d9" stroke-width="3.7" stroke-linejoin="round"/>
<line x1="1049" y1="1146.1" x2="1049" y2="1211.4" stroke="#0b0b0b" stroke-width="2" stroke-linecap="butt"/>
<line x1="1042.7" y1="1146.1" x2="1055.3" y2="1146.1" stroke="#0b0b0b" stroke-width="2" stroke-linecap="butt"/>
<line x1="1042.7" y1="1211.4" x2="1055.3" y2="1211.4" stroke="#0b0b0b" stroke-width="2" stroke-linecap="butt"/>
<line x1="1289.7" y1="1142.8" x2="1289.7" y2="1230.4" stroke="#0b0b0b" stroke-width="2" stroke-linecap="butt"/>
<line x1="1283.4" y1="1142.8" x2="1296" y2="1142.8" stroke="#0b0b0b" stroke-width="2" stroke-linecap="butt"/>
<line x1="1283.4" y1="1230.4" x2="1296" y2="1230.4" stroke="#0b0b0b" stroke-width="2" stroke-linecap="butt"/>
<line x1="1526" y1="1149.5" x2="1526" y2="1202" stroke="#0b0b0b" stroke-width="2" stroke-linecap="butt"/>
<line x1="1519.7" y1="1149.5" x2="1532.3" y2="1149.5" stroke="#0b0b0b" stroke-width="2" stroke-linecap="butt"/>
<line x1="1519.7" y1="1202" x2="1532.3" y2="1202" stroke="#0b0b0b" stroke-width="2" stroke-linecap="butt"/>
<line x1="1049" y1="1153.1" x2="1049" y2="1203.5" stroke="#0b0b0b" stroke-width="2" stroke-linecap="butt"/>
<line x1="1042.7" y1="1153.1" x2="1055.3" y2="1153.1" stroke="#0b0b0b" stroke-width="2" stroke-linecap="butt"/>
<line x1="1042.7" y1="1203.5" x2="1055.3" y2="1203.5" stroke="#0b0b0b" stroke-width="2" stroke-linecap="butt"/>
<line x1="1289.7" y1="1053.9" x2="1289.7" y2="1053.9" stroke="#0b0b0b" stroke-width="2" stroke-linecap="butt"/>
<line x1="1283.4" y1="1053.9" x2="1296" y2="1053.9" stroke="#0b0b0b" stroke-width="2" stroke-linecap="butt"/>
<line x1="1283.4" y1="1053.9" x2="1296" y2="1053.9" stroke="#0b0b0b" stroke-width="2" stroke-linecap="butt"/>
<line x1="1526" y1="1132" x2="1526" y2="1132" stroke="#0b0b0b" stroke-width="2" stroke-linecap="butt"/>
<line x1="1519.7" y1="1132" x2="1532.3" y2="1132" stroke="#0b0b0b" stroke-width="2" stroke-linecap="butt"/>
<line x1="1519.7" y1="1132" x2="1532.3" y2="1132" stroke="#0b0b0b" stroke-width="2" stroke-linecap="butt"/>
<line x1="1049" y1="1153.1" x2="1049" y2="1203.5" stroke="#0b0b0b" stroke-width="2" stroke-linecap="butt"/>
<line x1="1042.7" y1="1153.1" x2="1055.3" y2="1153.1" stroke="#0b0b0b" stroke-width="2" stroke-linecap="butt"/>
<line x1="1042.7" y1="1203.5" x2="1055.3" y2="1203.5" stroke="#0b0b0b" stroke-width="2" stroke-linecap="butt"/>
<line x1="1289.7" y1="1142.8" x2="1289.7" y2="1235.1" stroke="#0b0b0b" stroke-width="2" stroke-linecap="butt"/>
<line x1="1283.4" y1="1142.8" x2="1296" y2="1142.8" stroke="#0b0b0b" stroke-width="2" stroke-linecap="butt"/>
<line x1="1283.4" y1="1235.1" x2="1296" y2="1235.1" stroke="#0b0b0b" stroke-width="2" stroke-linecap="butt"/>
<line x1="1526" y1="1080.1" x2="1526" y2="1151" stroke="#0b0b0b" stroke-width="2" stroke-linecap="butt"/>
<line x1="1519.7" y1="1080.1" x2="1532.3" y2="1080.1" stroke="#0b0b0b" stroke-width="2" stroke-linecap="butt"/>
<line x1="1519.7" y1="1151" x2="1532.3" y2="1151" stroke="#0b0b0b" stroke-width="2" stroke-linecap="butt"/>
<line x1="1049" y1="1153.1" x2="1049" y2="1203.5" stroke="#0b0b0b" stroke-width="2" stroke-linecap="butt"/>
<line x1="1042.7" y1="1153.1" x2="1055.3" y2="1153.1" stroke="#0b0b0b" stroke-width="2" stroke-linecap="butt"/>
<line x1="1042.7" y1="1203.5" x2="1055.3" y2="1203.5" stroke="#0b0b0b" stroke-width="2" stroke-linecap="butt"/>
<line x1="1289.7" y1="1121" x2="1289.7" y2="1237" stroke="#0b0b0b" stroke-width="2" stroke-linecap="butt"/>
<line x1="1283.4" y1="1121" x2="1296" y2="1121" stroke="#0b0b0b" stroke-width="2" stroke-linecap="butt"/>
<line x1="1283.4" y1="1237" x2="1296" y2="1237" stroke="#0b0b0b" stroke-width="2" stroke-linecap="butt"/>
<line x1="1526" y1="1082.7" x2="1526" y2="1149" stroke="#0b0b0b" stroke-width="2" stroke-linecap="butt"/>
<line x1="1519.7" y1="1082.7" x2="1532.3" y2="1082.7" stroke="#0b0b0b" stroke-width="2" stroke-linecap="butt"/>
<line x1="1519.7" y1="1149" x2="1532.3" y2="1149" stroke="#0b0b0b" stroke-width="2" stroke-linecap="butt"/>
<line x1="1289.7" y1="1400.7" x2="1289.7" y2="1431.3" stroke="#0b0b0b" stroke-width="2" stroke-linecap="butt"/>
<line x1="1283.4" y1="1400.7" x2="1296" y2="1400.7" stroke="#0b0b0b" stroke-width="2" stroke-linecap="butt"/>
<line x1="1283.4" y1="1431.3" x2="1296" y2="1431.3" stroke="#0b0b0b" stroke-width="2" stroke-linecap="butt"/>
<line x1="1526" y1="1430" x2="1526" y2="1439" stroke="#0b0b0b" stroke-width="2" stroke-linecap="butt"/>
<line x1="1519.7" y1="1430" x2="1532.3" y2="1430" stroke="#0b0b0b" stroke-width="2" stroke-linecap="butt"/>
<line x1="1519.7" y1="1439" x2="1532.3" y2="1439" stroke="#0b0b0b" stroke-width="2" stroke-linecap="butt"/>
<line x1="1289.7" y1="1053.9" x2="1289.7" y2="1180" stroke="#0b0b0b" stroke-width="2" stroke-linecap="butt"/>
<line x1="1526" y1="1132" x2="1526" y2="1180" stroke="#0b0b0b" stroke-width="2" stroke-linecap="butt"/>
<path d="M1049 1502.53L1057.15 1517.43H1040.85Z" fill="#7fb3d9" stroke="#000" stroke-width="3.0" stroke-linejoin="miter"/>
<path d="M1289.7 1409.42L1297.85 1424.32H1281.55Z" fill="#7fb3d9" stroke="#000" stroke-width="3.0" stroke-linejoin="miter"/>
<path d="M1526 1428.04L1534.15 1442.94H1517.85Z" fill="#7fb3d9" stroke="#000" stroke-width="3.0" stroke-linejoin="miter"/>
<path d="M1049 1171L1057.15 1185.9H1040.85Z" fill="#d2d1d1" stroke="#000" stroke-width="3.0" stroke-linejoin="miter"/>
<path d="M1289.7 1112.88L1297.85 1127.78H1281.55Z" fill="#d2d1d1" stroke="#000" stroke-width="3.0" stroke-linejoin="miter"/>
<path d="M1526 1150.53L1534.15 1165.43H1517.85Z" fill="#d2d1d1" stroke="#000" stroke-width="3.0" stroke-linejoin="miter"/>
<path d="M1049 1171L1057.15 1185.9H1040.85Z" fill="#58585a" stroke="#000" stroke-width="3.0" stroke-linejoin="miter"/>
<path d="M1289.7 1171L1297.85 1185.9H1281.55Z" fill="#58585a" stroke="#000" stroke-width="3.0" stroke-linejoin="miter"/>
<path d="M1526 1171L1534.15 1185.9H1517.85Z" fill="#58585a" stroke="#000" stroke-width="3.0" stroke-linejoin="miter"/>
<path d="M1049 1171L1057.15 1185.9H1040.85Z" fill="#7ea28c" stroke="#000" stroke-width="3.0" stroke-linejoin="miter"/>
<path d="M1289.7 1181.64L1297.85 1196.54H1281.55Z" fill="#7ea28c" stroke="#000" stroke-width="3.0" stroke-linejoin="miter"/>
<path d="M1526 1108.79L1534.15 1123.69H1517.85Z" fill="#7ea28c" stroke="#000" stroke-width="3.0" stroke-linejoin="miter"/>
<path d="M1049 1171L1057.15 1185.9H1040.85Z" fill="#1f6650" stroke="#000" stroke-width="3.0" stroke-linejoin="miter"/>
<path d="M1289.7 1171L1297.85 1185.9H1281.55Z" fill="#1f6650" stroke="#000" stroke-width="3.0" stroke-linejoin="miter"/>
<path d="M1526 1108.38L1534.15 1123.28H1517.85Z" fill="#1f6650" stroke="#000" stroke-width="3.0" stroke-linejoin="miter"/>
<line x1="1040" y1="979.3" x2="1074.6" y2="979.3" stroke="#231f20" stroke-width="3.9" stroke-linecap="round"/>
<path d="M1057.3 971.6L1065.45 986.5H1049.15Z" fill="#58585a" stroke="#000" stroke-width="3.0" stroke-linejoin="miter"/>
<text transform="translate(1084.5 989.6) scale(0.8 1)" font-size="33.4" text-anchor="start" fill="#1c191a" stroke="#1c191a" stroke-width="0.6">Control</text>
<line x1="1040" y1="1020.8" x2="1074.6" y2="1020.8" stroke="#c8c6c6" stroke-width="3.9" stroke-linecap="round"/>
<path d="M1057.3 1013.1L1065.45 1028H1049.15Z" fill="#d2d1d1" stroke="#000" stroke-width="3.0" stroke-linejoin="miter"/>
<text transform="translate(1084.5 1031.1) scale(0.8 1)" font-size="33.4" text-anchor="start" fill="#1c191a" stroke="#1c191a" stroke-width="0.6">DMSO</text>
<line x1="1201" y1="979.3" x2="1235.6" y2="979.3" stroke="#6f9c81" stroke-width="3.9" stroke-linecap="round"/>
<path d="M1218.3 971.6L1226.45 986.5H1210.15Z" fill="#7ea28c" stroke="#000" stroke-width="3.0" stroke-linejoin="miter"/>
<text transform="translate(1246.5 989.6) scale(0.8 1)" font-size="33.4" text-anchor="start" fill="#1c191a" stroke="#1c191a" stroke-width="0.6">FSG67</text>
<line x1="1201" y1="1020.8" x2="1235.6" y2="1020.8" stroke="#1d5b49" stroke-width="3.9" stroke-linecap="round"/>
<path d="M1218.3 1013.1L1226.45 1028H1210.15Z" fill="#1f6650" stroke="#000" stroke-width="3.0" stroke-linejoin="miter"/>
<text transform="translate(1246.5 1031.1) scale(0.8 1)" font-size="33.4" text-anchor="start" fill="#1c191a" stroke="#1c191a" stroke-width="0.6">TriacsinC</text>
<line x1="1365" y1="979.3" x2="1399.6" y2="979.3" stroke="#7fb3d9" stroke-width="3.9" stroke-linecap="round"/>
<path d="M1382.3 971.6L1390.45 986.5H1374.15Z" fill="#7fb3d9" stroke="#000" stroke-width="3.0" stroke-linejoin="miter"/>
<text transform="translate(1410.5 989.6) scale(0.8 1)" font-size="33.4" text-anchor="start" fill="#1c191a" stroke="#1c191a" stroke-width="0.6">Ionomycin</text>
<text transform="translate(1631.54 924.23) scale(1.076821285947211 1)" font-size="57.01" text-anchor="start" fill="#1c191a" font-weight="bold">d</text>
<line x1="1720.4" y1="1053.3" x2="1720.4" y2="1588.55" stroke="#000" stroke-width="2.1" stroke-linecap="butt"/>
<line x1="1714.4" y1="1587.6" x2="2162" y2="1587.6" stroke="#000" stroke-width="2.1" stroke-linecap="butt"/>
<line x1="1710.2" y1="1558.3" x2="1720.4" y2="1558.3" stroke="#000" stroke-width="2.1" stroke-linecap="butt"/>
<text transform="translate(1699.5 1569.5) scale(0.8 1)" font-size="32.5" text-anchor="end" fill="#1c191a" stroke="#1c191a" stroke-width="0.6">0.2</text>
<line x1="1714.8" y1="1528.65" x2="1720.4" y2="1528.65" stroke="#000" stroke-width="2.1" stroke-linecap="butt"/>
<line x1="1710.2" y1="1499" x2="1720.4" y2="1499" stroke="#000" stroke-width="2.1" stroke-linecap="butt"/>
<text transform="translate(1699.5 1510.2) scale(0.8 1)" font-size="32.5" text-anchor="end" fill="#1c191a" stroke="#1c191a" stroke-width="0.6">0.4</text>
<line x1="1714.8" y1="1469.35" x2="1720.4" y2="1469.35" stroke="#000" stroke-width="2.1" stroke-linecap="butt"/>
<line x1="1710.2" y1="1439.7" x2="1720.4" y2="1439.7" stroke="#000" stroke-width="2.1" stroke-linecap="butt"/>
<text transform="translate(1699.5 1450.9) scale(0.8 1)" font-size="32.5" text-anchor="end" fill="#1c191a" stroke="#1c191a" stroke-width="0.6">0.6</text>
<line x1="1714.8" y1="1410.05" x2="1720.4" y2="1410.05" stroke="#000" stroke-width="2.1" stroke-linecap="butt"/>
<line x1="1710.2" y1="1380.4" x2="1720.4" y2="1380.4" stroke="#000" stroke-width="2.1" stroke-linecap="butt"/>
<text transform="translate(1699.5 1391.6) scale(0.8 1)" font-size="32.5" text-anchor="end" fill="#1c191a" stroke="#1c191a" stroke-width="0.6">0.8</text>
<line x1="1714.8" y1="1350.75" x2="1720.4" y2="1350.75" stroke="#000" stroke-width="2.1" stroke-linecap="butt"/>
<line x1="1710.2" y1="1321.1" x2="1720.4" y2="1321.1" stroke="#000" stroke-width="2.1" stroke-linecap="butt"/>
<text transform="translate(1699.5 1332.3) scale(0.8 1)" font-size="32.5" text-anchor="end" fill="#1c191a" stroke="#1c191a" stroke-width="0.6">1.0</text>
<line x1="1714.8" y1="1291.45" x2="1720.4" y2="1291.45" stroke="#000" stroke-width="2.1" stroke-linecap="butt"/>
<line x1="1710.2" y1="1261.8" x2="1720.4" y2="1261.8" stroke="#000" stroke-width="2.1" stroke-linecap="butt"/>
<text transform="translate(1699.5 1273) scale(0.8 1)" font-size="32.5" text-anchor="end" fill="#1c191a" stroke="#1c191a" stroke-width="0.6">1.2</text>
<line x1="1714.8" y1="1232.15" x2="1720.4" y2="1232.15" stroke="#000" stroke-width="2.1" stroke-linecap="butt"/>
<line x1="1710.2" y1="1202.5" x2="1720.4" y2="1202.5" stroke="#000" stroke-width="2.1" stroke-linecap="butt"/>
<text transform="translate(1699.5 1213.7) scale(0.8 1)" font-size="32.5" text-anchor="end" fill="#1c191a" stroke="#1c191a" stroke-width="0.6">1.4</text>
<line x1="1714.8" y1="1172.85" x2="1720.4" y2="1172.85" stroke="#000" stroke-width="2.1" stroke-linecap="butt"/>
<line x1="1710.2" y1="1143.2" x2="1720.4" y2="1143.2" stroke="#000" stroke-width="2.1" stroke-linecap="butt"/>
<text transform="translate(1699.5 1154.4) scale(0.8 1)" font-size="32.5" text-anchor="end" fill="#1c191a" stroke="#1c191a" stroke-width="0.6">1.6</text>
<line x1="1714.8" y1="1113.55" x2="1720.4" y2="1113.55" stroke="#000" stroke-width="2.1" stroke-linecap="butt"/>
<line x1="1710.2" y1="1083.9" x2="1720.4" y2="1083.9" stroke="#000" stroke-width="2.1" stroke-linecap="butt"/>
<text transform="translate(1699.5 1095.1) scale(0.8 1)" font-size="32.5" text-anchor="end" fill="#1c191a" stroke="#1c191a" stroke-width="0.6">1.8</text>
<line x1="1714.8" y1="1054.25" x2="1720.4" y2="1054.25" stroke="#000" stroke-width="2.1" stroke-linecap="butt"/>
<text transform="translate(1648.2 1331.8) rotate(-90) scale(0.846 1)" font-size="39.5" text-anchor="middle" fill="#1c191a" stroke="#1c191a" stroke-width="0.6">Relative amount externalized PS</text>
<line x1="1755.9" y1="1587.6" x2="1755.9" y2="1598.4" stroke="#000" stroke-width="2.1" stroke-linecap="butt"/>
<text transform="translate(1755.9 1634.8) scale(0.8 1)" font-size="36.5" text-anchor="middle" fill="#1c191a" stroke="#1c191a" stroke-width="0.6">D1</text>
<line x1="1828.8" y1="1587.6" x2="1828.8" y2="1598.4" stroke="#000" stroke-width="2.1" stroke-linecap="butt"/>
<text transform="translate(1828.8 1634.8) scale(0.8 1)" font-size="36.5" text-anchor="middle" fill="#1c191a" stroke="#1c191a" stroke-width="0.6">D3</text>
<line x1="1900.4" y1="1587.6" x2="1900.4" y2="1598.4" stroke="#000" stroke-width="2.1" stroke-linecap="butt"/>
<text transform="translate(1900.4 1634.8) scale(0.8 1)" font-size="36.5" text-anchor="middle" fill="#1c191a" stroke="#1c191a" stroke-width="0.6">D7</text>
<line x1="1991.2" y1="1587.6" x2="1991.2" y2="1598.4" stroke="#000" stroke-width="2.1" stroke-linecap="butt"/>
<text transform="translate(1991.2 1634.8) scale(0.8 1)" font-size="36.5" text-anchor="middle" fill="#1c191a" stroke="#1c191a" stroke-width="0.6">D1</text>
<line x1="2063.5" y1="1587.6" x2="2063.5" y2="1598.4" stroke="#000" stroke-width="2.1" stroke-linecap="butt"/>
<text transform="translate(2063.5 1634.8) scale(0.8 1)" font-size="36.5" text-anchor="middle" fill="#1c191a" stroke="#1c191a" stroke-width="0.6">D3</text>
<line x1="2135.8" y1="1587.6" x2="2135.8" y2="1598.4" stroke="#000" stroke-width="2.1" stroke-linecap="butt"/>
<text transform="translate(2135.8 1634.8) scale(0.8 1)" font-size="36.5" text-anchor="middle" fill="#1c191a" stroke="#1c191a" stroke-width="0.6">D7</text>
<path d="M1731.7 1081.3V1070H1925.4V1081.3" fill="none" stroke="#000" stroke-width="1.9"/>
<path d="M1967.7 1081.3V1070H2163" fill="none" stroke="#000" stroke-width="1.9"/>
<text transform="translate(1826.2 1058.3) scale(0.82 1)" font-size="35.8" text-anchor="middle" fill="#1c191a" stroke="#1c191a" stroke-width="0.6">PS 18:0<tspan dy="-3.22">_</tspan><tspan dy="3.22">18:1</tspan></text>
<text transform="translate(2063 1058.3) scale(0.82 1)" font-size="35.8" text-anchor="middle" fill="#1c191a" stroke="#1c191a" stroke-width="0.6">PS 18:0<tspan dy="-3.22">_</tspan><tspan dy="3.22">20:4</tspan></text>
<line x1="1756.2" y1="1195.2" x2="1756.2" y2="1459.8" stroke="#000" stroke-width="1.8" stroke-linecap="butt"/>
<line x1="1743.2" y1="1195.2" x2="1769.2" y2="1195.2" stroke="#000" stroke-width="1.8" stroke-linecap="butt"/>
<line x1="1743.2" y1="1459.8" x2="1769.2" y2="1459.8" stroke="#000" stroke-width="1.8" stroke-linecap="butt"/>
<rect x="1731.9" y="1242.4" width="49.6" height="141.5" fill="#2b4b7a" stroke="#000" stroke-width="1.75"/>
<line x1="1731.9" y1="1322.6" x2="1781.5" y2="1322.6" stroke="#000" stroke-width="1.75" stroke-linecap="butt"/>
<rect x="1748.4" y="1303.5" width="5.2" height="5.2" fill="#2b4b7a" stroke="#000" stroke-width="1.5"/>
<path d="M1748.3 1189.3L1754.9 1200.1H1741.7Z" fill="#c3c3c3" stroke="#000" stroke-width="1.5" stroke-linejoin="miter"/>
<path d="M1762.2 1237.5L1768.8 1248.3H1755.6Z" fill="#c3c3c3" stroke="#000" stroke-width="1.5" stroke-linejoin="miter"/>
<path d="M1751 1317.1L1757.6 1327.9H1744.4Z" fill="#c3c3c3" stroke="#000" stroke-width="1.5" stroke-linejoin="miter"/>
<path d="M1754 1378L1760.6 1388.8H1747.4Z" fill="#c3c3c3" stroke="#000" stroke-width="1.5" stroke-linejoin="miter"/>
<path d="M1752.1 1453.9L1758.7 1464.7H1745.5Z" fill="#c3c3c3" stroke="#000" stroke-width="1.5" stroke-linejoin="miter"/>
<line x1="1828.3" y1="1209.3" x2="1828.3" y2="1412.6" stroke="#000" stroke-width="1.8" stroke-linecap="butt"/>
<line x1="1815.3" y1="1209.3" x2="1841.3" y2="1209.3" stroke="#000" stroke-width="1.8" stroke-linecap="butt"/>
<line x1="1815.3" y1="1412.6" x2="1841.3" y2="1412.6" stroke="#000" stroke-width="1.8" stroke-linecap="butt"/>
<rect x="1803.6" y="1240" width="50" height="72.7" fill="#2b4b7a" stroke="#000" stroke-width="1.75"/>
<line x1="1803.6" y1="1287" x2="1853.6" y2="1287" stroke="#000" stroke-width="1.75" stroke-linecap="butt"/>
<rect x="1820.3" y="1275.4" width="5.2" height="5.2" fill="#2b4b7a" stroke="#000" stroke-width="1.5"/>
<path d="M1828.7 1203.4L1835.3 1214.2H1822.1Z" fill="#c3c3c3" stroke="#000" stroke-width="1.5" stroke-linejoin="miter"/>
<path d="M1827.4 1234.3L1834 1245.1H1820.8Z" fill="#c3c3c3" stroke="#000" stroke-width="1.5" stroke-linejoin="miter"/>
<path d="M1831.7 1281.1L1838.3 1291.9H1825.1Z" fill="#c3c3c3" stroke="#000" stroke-width="1.5" stroke-linejoin="miter"/>
<path d="M1822.3 1306.8L1828.9 1317.6H1815.7Z" fill="#c3c3c3" stroke="#000" stroke-width="1.5" stroke-linejoin="miter"/>
<path d="M1829.3 1407L1835.9 1417.8H1822.7Z" fill="#c3c3c3" stroke="#000" stroke-width="1.5" stroke-linejoin="miter"/>
<line x1="1900.5" y1="1205" x2="1900.5" y2="1345.1" stroke="#000" stroke-width="1.8" stroke-linecap="butt"/>
<line x1="1887.5" y1="1205" x2="1913.5" y2="1205" stroke="#000" stroke-width="1.8" stroke-linecap="butt"/>
<line x1="1887.5" y1="1345.1" x2="1913.5" y2="1345.1" stroke="#000" stroke-width="1.8" stroke-linecap="butt"/>
<rect x="1875.6" y="1255.6" width="50.2" height="70.2" fill="#2b4b7a" stroke="#000" stroke-width="1.75"/>
<line x1="1875.6" y1="1274.8" x2="1925.8" y2="1274.8" stroke="#000" stroke-width="1.75" stroke-linecap="butt"/>
<rect x="1892.2" y="1264.2" width="5.2" height="5.2" fill="#2b4b7a" stroke="#000" stroke-width="1.5"/>
<path d="M1903.8 1199.1L1910.4 1209.9H1897.2Z" fill="#c3c3c3" stroke="#000" stroke-width="1.5" stroke-linejoin="miter"/>
<path d="M1895.2 1249.3L1901.8 1260.1H1888.6Z" fill="#c3c3c3" stroke="#000" stroke-width="1.5" stroke-linejoin="miter"/>
<path d="M1903.3 1269.3L1909.9 1280.1H1896.7Z" fill="#c3c3c3" stroke="#000" stroke-width="1.5" stroke-linejoin="miter"/>
<path d="M1896.7 1320.3L1903.3 1331.1H1890.1Z" fill="#c3c3c3" stroke="#000" stroke-width="1.5" stroke-linejoin="miter"/>
<path d="M1891.1 1339.6L1897.7 1350.4H1884.5Z" fill="#c3c3c3" stroke="#000" stroke-width="1.5" stroke-linejoin="miter"/>
<line x1="1991.5" y1="1221.5" x2="1991.5" y2="1461.7" stroke="#000" stroke-width="1.8" stroke-linecap="butt"/>
<line x1="1978.5" y1="1221.5" x2="2004.5" y2="1221.5" stroke="#000" stroke-width="1.8" stroke-linecap="butt"/>
<line x1="1978.5" y1="1461.7" x2="2004.5" y2="1461.7" stroke="#000" stroke-width="1.8" stroke-linecap="butt"/>
<rect x="1966.5" y="1261.2" width="49.7" height="97.5" fill="#d1d3d4" stroke="#000" stroke-width="1.75"/>
<line x1="1966.5" y1="1302.1" x2="2016.2" y2="1302.1" stroke="#000" stroke-width="1.75" stroke-linecap="butt"/>
<rect x="1983.1" y="1304.1" width="5.2" height="5.2" fill="#d1d3d4" stroke="#000" stroke-width="1.5"/>
<path d="M1989.6 1215.6L1996.2 1226.4H1983Z" fill="#c3c3c3" stroke="#000" stroke-width="1.5" stroke-linejoin="miter"/>
<path d="M1991.5 1255.9L1998.1 1266.7H1984.9Z" fill="#c3c3c3" stroke="#000" stroke-width="1.5" stroke-linejoin="miter"/>
<path d="M1995 1295.6L2001.6 1306.4H1988.4Z" fill="#c3c3c3" stroke="#000" stroke-width="1.5" stroke-linejoin="miter"/>
<path d="M1991.8 1352.8L1998.4 1363.6H1985.2Z" fill="#c3c3c3" stroke="#000" stroke-width="1.5" stroke-linejoin="miter"/>
<path d="M1991.8 1456.2L1998.4 1467H1985.2Z" fill="#c3c3c3" stroke="#000" stroke-width="1.5" stroke-linejoin="miter"/>
<line x1="2063.4" y1="1192.4" x2="2063.4" y2="1419.2" stroke="#000" stroke-width="1.8" stroke-linecap="butt"/>
<line x1="2050.4" y1="1192.4" x2="2076.4" y2="1192.4" stroke="#000" stroke-width="1.8" stroke-linecap="butt"/>
<line x1="2050.4" y1="1419.2" x2="2076.4" y2="1419.2" stroke="#000" stroke-width="1.8" stroke-linecap="butt"/>
<rect x="2038.3" y="1256.5" width="50.1" height="87.5" fill="#d1d3d4" stroke="#000" stroke-width="1.75"/>
<line x1="2038.3" y1="1336.7" x2="2088.4" y2="1336.7" stroke="#000" stroke-width="1.75" stroke-linecap="butt"/>
<rect x="2055.4" y="1292.3" width="5.2" height="5.2" fill="#d1d3d4" stroke="#000" stroke-width="1.5"/>
<path d="M2070.2 1186.5L2076.8 1197.3H2063.6Z" fill="#c3c3c3" stroke="#000" stroke-width="1.5" stroke-linejoin="miter"/>
<path d="M2063.6 1251.2L2070.2 1262H2057Z" fill="#c3c3c3" stroke="#000" stroke-width="1.5" stroke-linejoin="miter"/>
<path d="M2061.7 1330.3L2068.3 1341.1H2055.1Z" fill="#c3c3c3" stroke="#000" stroke-width="1.5" stroke-linejoin="miter"/>
<path d="M2067.2 1338.7L2073.8 1349.5H2060.6Z" fill="#c3c3c3" stroke="#000" stroke-width="1.5" stroke-linejoin="miter"/>
<path d="M2061.7 1413.7L2068.3 1424.5H2055.1Z" fill="#c3c3c3" stroke="#000" stroke-width="1.5" stroke-linejoin="miter"/>
<line x1="2135.6" y1="1225" x2="2135.6" y2="1366.1" stroke="#000" stroke-width="1.8" stroke-linecap="butt"/>
<line x1="2122.6" y1="1225" x2="2148.6" y2="1225" stroke="#000" stroke-width="1.8" stroke-linecap="butt"/>
<line x1="2122.6" y1="1366.1" x2="2148.6" y2="1366.1" stroke="#000" stroke-width="1.8" stroke-linecap="butt"/>
<rect x="2110.5" y="1242.1" width="50" height="110" fill="#d1d3d4" stroke="#000" stroke-width="1.75"/>
<line x1="2110.5" y1="1261.6" x2="2160.5" y2="1261.6" stroke="#000" stroke-width="1.75" stroke-linecap="butt"/>
<rect x="2127.4" y="1272.7" width="5.2" height="5.2" fill="#d1d3d4" stroke="#000" stroke-width="1.5"/>
<path d="M2141.2 1219.1L2147.8 1229.9H2134.6Z" fill="#c3c3c3" stroke="#000" stroke-width="1.5" stroke-linejoin="miter"/>
<path d="M2132.4 1236.6L2139 1247.4H2125.8Z" fill="#c3c3c3" stroke="#000" stroke-width="1.5" stroke-linejoin="miter"/>
<path d="M2130.5 1255.9L2137.1 1266.7H2123.9Z" fill="#c3c3c3" stroke="#000" stroke-width="1.5" stroke-linejoin="miter"/>
<path d="M2133.7 1346.6L2140.3 1357.4H2127.1Z" fill="#c3c3c3" stroke="#000" stroke-width="1.5" stroke-linejoin="miter"/>
<path d="M2133.7 1360.6L2140.3 1371.4H2127.1Z" fill="#c3c3c3" stroke="#000" stroke-width="1.5" stroke-linejoin="miter"/>
</svg>
</body></html>
